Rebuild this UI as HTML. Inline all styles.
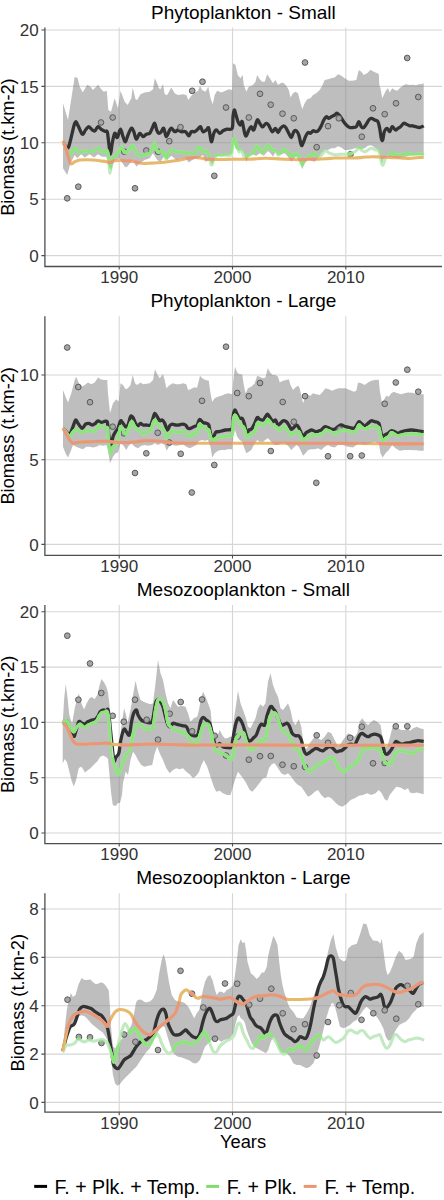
<!DOCTYPE html><html><head><meta charset="utf-8"><style>html,body{margin:0;padding:0;background:#fff;width:444px;height:1200px;overflow:hidden}svg{display:block}text{font-family:"Liberation Sans",sans-serif}</style></head><body>
<svg width="444" height="1200" viewBox="0 0 444 1200">
<path d="M44.9 255.6H442M44.9 199.2H442M44.9 142.8H442M44.9 86.4H442M44.9 30H442M119.2 27.6V266.5M232.5 27.6V266.5M345.8 27.6V266.5" stroke="#d6d6d6" stroke-width="1.1" fill="none"/>
<clipPath id="c0"><path d="M63 103.3 68 120 74.7 76.7 77.7 78.3 79.7 86.7 82.7 92.5 87.2 84.7 90.5 86.7 93 90 98 84.7 101.3 89.2 103.8 91.7 106.8 90.8 108.3 110 111 111.7 114.7 98.3 118 108.3 120.5 90.8 124.7 101.7 127.7 105 131.3 98.3 132.7 87.5 135.5 99.2 137.2 100 140.5 94.2 144.7 92.5 149.7 91.7 153 89.2 154.7 78.3 157.2 83.3 158.8 88.3 160.5 89.2 163 84.2 164.7 94.2 167.2 95 171.3 87.5 174.7 93.3 178 95 183 94.2 186.3 95 188.3 100 191.3 95.8 194.7 92.5 198 91 200 85.8 202.2 90 205.5 91.7 208.3 86.7 210.5 98.3 212.7 104.2 214.7 95 217.2 90.8 221.3 92.5 225.5 90.8 228.8 89.2 232.2 90 233 63.3 235.5 65 237.7 75 240.5 78.3 242.7 75 243.8 85 246.3 91.7 248.8 86.7 253 85 255.5 81.7 257.2 75 259.7 79.2 262.2 81.7 264.7 81.7 267.2 74.2 270.5 79.2 273 83.3 275.5 80 278 85 280.5 83.3 283 82.5 286.3 85.8 288.8 90 290.5 97.5 293 93.3 295.5 91.7 298 93.3 299.7 100 302.2 109.2 304.7 103.3 307.2 99.2 310.5 98.3 313 95 316.3 93.3 319.7 90 322.2 85.8 324.7 80 328 79.2 331.3 78.3 334.7 77.5 338 74.2 341.3 75.8 344.7 78.3 348.8 80.8 352.2 80.8 356.3 80 358.8 70 361.3 71.7 363.8 75 367.2 73.3 370.5 69.7 373.8 71.7 377.2 73.3 378.8 74.2 379.3 85 380.5 88.3 382.2 98.3 383.8 95 386.3 90 388 88.3 389.7 92.5 392.2 88.3 394.7 90 397.2 90.8 400.5 87.5 403.8 85 406.3 84.2 409.7 85 412.5 84.7 415.8 85.3 419.2 84.2 421.7 84.2 423.7 83 423.7 155.8 420 155 411.7 155.3 404.7 156.7 398 158.3 393 157.5 388 156.7 383.8 158.3 381.7 163.3 379.7 153.3 378 150 374.7 147.5 371.3 145.3 368 145.8 364.7 148.3 361.3 149.2 358 148.3 354.7 148.3 352.2 149.2 348 150 344.7 150 341.3 147.5 338 146.3 334.7 148.3 331.3 148.3 328 150 324.7 150 321.3 153.3 318 158.3 314.7 161.7 311.3 160.8 308 160 304.7 163.3 302.2 169.2 299.7 161.7 296.3 156.7 293.8 158.3 291.3 161.7 288 156.7 284.7 153.3 281.3 154.2 278 155 275.5 151.7 273 156.7 270.5 153.3 268 151 263.8 155.8 259.7 153.3 256.3 155.8 252.2 154.2 248.8 156.7 246.3 161.7 243.8 153.3 241.3 150 238.8 150.8 235.5 148.3 233.8 143.3 232.5 153.3 229.7 155 224.7 155.8 219.7 155.8 215.5 156.7 212.2 165 209.7 160 205.5 161.7 203 155 198 158.3 196.3 158.3 192.2 160 188.8 162.5 185.5 158.3 181.3 158.3 176.3 160 171.3 155.8 167.2 160 163.8 156.7 160.5 161.7 157.2 160 153 153.3 149.7 158.3 144.7 160 139.7 163.3 136.3 166.7 133 160 131 162 127 167 124.7 166.7 119.7 158.3 114.7 160 111.3 170 108.8 166.7 106.3 156.7 102.2 156.7 98 154.2 93.8 157.5 89.7 154.2 84.7 157.5 81.3 154.2 77.2 158.3 74.7 155 70.5 163.3 67.2 175 63 168.3 Z"/><circle cx="101" cy="122.5" r="3.3"/><circle cx="112.7" cy="117.5" r="3.3"/><circle cx="78.3" cy="186.7" r="3.3"/><circle cx="67.2" cy="198.3" r="3.3"/><circle cx="124.3" cy="151.7" r="3.3"/><circle cx="202.5" cy="81.7" r="3.3"/><circle cx="192.2" cy="90.8" r="3.3"/><circle cx="180.5" cy="127.2" r="3.3"/><circle cx="169.3" cy="141.2" r="3.3"/><circle cx="146.3" cy="150.5" r="3.3"/><circle cx="158" cy="151.7" r="3.3"/><circle cx="135" cy="188.3" r="3.3"/><circle cx="226" cy="107.5" r="3.3"/><circle cx="248.8" cy="117.5" r="3.3"/><circle cx="260" cy="93.8" r="3.3"/><circle cx="270.7" cy="104.7" r="3.3"/><circle cx="214.3" cy="175.8" r="3.3"/><circle cx="305" cy="62.5" r="3.3"/><circle cx="282.5" cy="113.7" r="3.3"/><circle cx="293.8" cy="118.3" r="3.3"/><circle cx="328" cy="126.2" r="3.3"/><circle cx="338.8" cy="118.3" r="3.3"/><circle cx="316.7" cy="147.2" r="3.3"/><circle cx="407.2" cy="58" r="3.3"/><circle cx="373" cy="108.3" r="3.3"/><circle cx="384.7" cy="114.2" r="3.3"/><circle cx="396" cy="103.3" r="3.3"/><circle cx="361.8" cy="136.7" r="3.3"/><circle cx="350.5" cy="154.2" r="3.3"/><circle cx="418.3" cy="97" r="3.3"/></clipPath>
<path d="M63 103.3 68 120 74.7 76.7 77.7 78.3 79.7 86.7 82.7 92.5 87.2 84.7 90.5 86.7 93 90 98 84.7 101.3 89.2 103.8 91.7 106.8 90.8 108.3 110 111 111.7 114.7 98.3 118 108.3 120.5 90.8 124.7 101.7 127.7 105 131.3 98.3 132.7 87.5 135.5 99.2 137.2 100 140.5 94.2 144.7 92.5 149.7 91.7 153 89.2 154.7 78.3 157.2 83.3 158.8 88.3 160.5 89.2 163 84.2 164.7 94.2 167.2 95 171.3 87.5 174.7 93.3 178 95 183 94.2 186.3 95 188.3 100 191.3 95.8 194.7 92.5 198 91 200 85.8 202.2 90 205.5 91.7 208.3 86.7 210.5 98.3 212.7 104.2 214.7 95 217.2 90.8 221.3 92.5 225.5 90.8 228.8 89.2 232.2 90 233 63.3 235.5 65 237.7 75 240.5 78.3 242.7 75 243.8 85 246.3 91.7 248.8 86.7 253 85 255.5 81.7 257.2 75 259.7 79.2 262.2 81.7 264.7 81.7 267.2 74.2 270.5 79.2 273 83.3 275.5 80 278 85 280.5 83.3 283 82.5 286.3 85.8 288.8 90 290.5 97.5 293 93.3 295.5 91.7 298 93.3 299.7 100 302.2 109.2 304.7 103.3 307.2 99.2 310.5 98.3 313 95 316.3 93.3 319.7 90 322.2 85.8 324.7 80 328 79.2 331.3 78.3 334.7 77.5 338 74.2 341.3 75.8 344.7 78.3 348.8 80.8 352.2 80.8 356.3 80 358.8 70 361.3 71.7 363.8 75 367.2 73.3 370.5 69.7 373.8 71.7 377.2 73.3 378.8 74.2 379.3 85 380.5 88.3 382.2 98.3 383.8 95 386.3 90 388 88.3 389.7 92.5 392.2 88.3 394.7 90 397.2 90.8 400.5 87.5 403.8 85 406.3 84.2 409.7 85 412.5 84.7 415.8 85.3 419.2 84.2 421.7 84.2 423.7 83 423.7 155.8 420 155 411.7 155.3 404.7 156.7 398 158.3 393 157.5 388 156.7 383.8 158.3 381.7 163.3 379.7 153.3 378 150 374.7 147.5 371.3 145.3 368 145.8 364.7 148.3 361.3 149.2 358 148.3 354.7 148.3 352.2 149.2 348 150 344.7 150 341.3 147.5 338 146.3 334.7 148.3 331.3 148.3 328 150 324.7 150 321.3 153.3 318 158.3 314.7 161.7 311.3 160.8 308 160 304.7 163.3 302.2 169.2 299.7 161.7 296.3 156.7 293.8 158.3 291.3 161.7 288 156.7 284.7 153.3 281.3 154.2 278 155 275.5 151.7 273 156.7 270.5 153.3 268 151 263.8 155.8 259.7 153.3 256.3 155.8 252.2 154.2 248.8 156.7 246.3 161.7 243.8 153.3 241.3 150 238.8 150.8 235.5 148.3 233.8 143.3 232.5 153.3 229.7 155 224.7 155.8 219.7 155.8 215.5 156.7 212.2 165 209.7 160 205.5 161.7 203 155 198 158.3 196.3 158.3 192.2 160 188.8 162.5 185.5 158.3 181.3 158.3 176.3 160 171.3 155.8 167.2 160 163.8 156.7 160.5 161.7 157.2 160 153 153.3 149.7 158.3 144.7 160 139.7 163.3 136.3 166.7 133 160 131 162 127 167 124.7 166.7 119.7 158.3 114.7 160 111.3 170 108.8 166.7 106.3 156.7 102.2 156.7 98 154.2 93.8 157.5 89.7 154.2 84.7 157.5 81.3 154.2 77.2 158.3 74.7 155 70.5 163.3 67.2 175 63 168.3 Z" fill="#7e7e7e" fill-opacity="0.5"/>
<path d="M63 141.7C63.9 142.7 66.3 150.6 68.3 147.5C70.2 144.4 73.1 127 74.7 123.3C76.3 119.5 76.5 123.2 77.7 125C79 126.8 80.9 133.4 82.2 134.2C83.5 135 84.4 131.2 85.5 130C86.6 128.8 87.7 126.7 88.8 126.7C89.9 126.7 91.2 129.3 92.2 130C93.2 130.7 94 131.4 95 130.8C96 130.2 96.9 126.9 98 126.7C99.1 126.5 100.5 128.9 101.7 129.7C102.9 130.5 104.1 130.9 105 131.3C105.9 131.7 106.7 130 107.3 132C107.9 134 108.3 139.6 108.8 143.3C109.3 147 109.9 154.2 110.5 154.2C111.1 154.2 111.5 146.8 112.2 143.3C112.9 139.8 113.9 134.3 114.7 133.3C115.5 132.3 116.2 138.2 117.2 137.5C118.2 136.8 119.5 129.3 120.5 129.2C121.5 129.1 122.2 134.6 123 136.7C123.8 138.8 124.7 142 125.5 141.7C126.3 141.4 127 137.2 128 135C129 132.8 130.3 128.9 131.3 128.3C132.3 127.8 133 129.9 133.8 131.7C134.6 133.5 135.3 138.9 136.3 139.2C137.3 139.5 138.6 133.7 139.7 133.3C140.8 132.9 141.9 136.5 143 136.7C144.1 136.8 145.2 134.8 146.3 134.2C147.4 133.6 148.7 134.3 149.7 133.3C150.7 132.3 151.4 130 152.2 128.3C153 126.6 153.9 123 154.7 123.3C155.4 123.6 156 128.3 156.7 130C157.4 131.7 158 133 158.8 133.3C159.6 133.6 160.5 132.5 161.3 131.7C162.1 130.9 163 127.5 163.8 128.3C164.6 129.1 165.3 136.4 166.3 136.7C167.3 137 168.8 131.4 169.7 130C170.6 128.6 170.9 128 171.7 128.3C172.5 128.6 173.6 131.4 174.7 131.7C175.8 132 176.9 130 178 130C179.1 130 180.1 131.4 181.3 131.7C182.6 132 184.2 131 185.5 131.7C186.8 132.4 187.8 135.8 188.8 135.8C189.8 135.8 190.3 132.4 191.3 131.7C192.3 131 193.6 132.1 194.7 131.7C195.8 131.2 197 129.8 198 129C199 128.2 199.7 126.2 200.5 126.7C201.3 127.2 202 131.1 203 131.7C204 132.2 205.3 130.6 206.3 130C207.3 129.4 208 126.4 208.8 128.3C209.6 130.2 210.5 140.9 211.3 141.7C212.1 142.5 213 135.2 213.8 133.3C214.6 131.4 215.3 130 216.3 130C217.3 130 218.6 133.2 219.7 133.3C220.8 133.4 221.8 131.5 223 130.8C224.2 130.1 225.7 129.6 227.2 129.2C228.7 128.8 231.2 130.4 232.2 128.3C233.2 126.2 232.7 119.8 233 116.7C233.3 113.7 233.8 110.3 234.3 110C234.8 109.7 235.4 113 236 115C236.6 117 237.2 120 238 121.7C238.8 123.4 239.8 125 240.5 125C241.2 125 241.5 120.3 242.2 121.7C242.9 123.1 244 131 244.7 133.3C245.4 135.7 245.6 136.4 246.3 135.8C247 135.2 248 131.5 248.8 130C249.6 128.5 250.5 126.7 251.3 126.7C252.1 126.7 252.8 131.1 253.8 130C254.8 128.9 256.2 121.1 257.2 120C258.2 118.9 258.9 122.2 259.7 123.3C260.5 124.4 261.5 126.3 262.2 126.7C262.9 127.1 263.1 126.4 263.8 125.8C264.5 125.2 265.5 123.4 266.3 123.3C267.1 123.2 267.5 123.6 268.5 125C269.5 126.4 271 131.1 272.2 131.7C273.4 132.2 274.5 128.2 275.5 128.3C276.5 128.4 277.2 132.5 278 132.5C278.8 132.5 279.5 129.4 280.5 128.3C281.5 127.2 282.8 125.8 283.8 125.8C284.8 125.8 285.5 127.1 286.3 128.3C287.1 129.6 288 131.8 288.8 133.3C289.6 134.8 290.5 137.8 291.3 137.5C292.1 137.2 293 132.8 293.8 131.7C294.6 130.6 295.5 130.2 296.3 130.8C297.1 131.4 298 132.6 298.8 135C299.6 137.4 300.6 143.6 301.3 145C302 146.4 302.3 144.7 303 143.3C303.7 141.9 304.7 138.5 305.5 136.7C306.3 134.9 307.2 133.1 308 132.5C308.8 131.9 309.7 133.6 310.5 133.3C311.3 133 312 131.1 313 130.8C314 130.5 315.3 131.8 316.3 131.7C317.3 131.6 318 131 318.8 130C319.6 129 320.5 127.5 321.3 125.8C322.1 124.1 323 121.5 323.8 120C324.6 118.5 325.5 117 326.3 116.7C327.1 116.4 328 118.3 328.8 118.3C329.6 118.3 330.3 117.2 331.3 116.7C332.3 116.2 333.7 115.6 334.7 115C335.7 114.4 336.2 113 337.2 113.3C338.2 113.6 339.5 115.5 340.5 116.7C341.5 118 342 119.4 343 120.8C344 122.2 345.2 123.9 346.3 125C347.4 126.1 348.6 127.1 349.7 127.5C350.8 127.9 351.9 127.6 353 127.5C354.1 127.4 355.3 127.7 356.3 126.7C357.3 125.7 358 121.7 358.8 121.7C359.6 121.7 360.5 125.7 361.3 126.7C362.1 127.7 363 127.9 363.8 127.5C364.6 127.1 365.5 125.5 366.3 124.2C367.1 123 368 121 368.8 120C369.6 119 370.3 118.3 371.3 118.3C372.3 118.3 373.6 119.4 374.7 120C375.8 120.6 377.2 120.3 378 121.7C378.8 123.1 379.1 125.5 379.7 128.3C380.2 131.1 380.8 136.4 381.3 138.3C381.8 140.2 382.2 141.1 382.7 140C383.2 138.9 383.6 133.6 384.3 131.7C385.1 129.8 386.3 128.3 387.2 128.3C388.1 128.3 388.9 132 389.7 131.7C390.5 131.4 391.2 127 392.2 126.7C393.2 126.4 394.5 129.7 395.5 130C396.5 130.3 397.2 128.9 398 128.3C398.8 127.8 399.5 127.5 400.5 126.7C401.5 125.9 402.8 123.7 403.8 123.3C404.8 122.9 405.3 123.8 406.3 124.2C407.3 124.6 408.7 125.5 409.7 125.8C410.7 126.1 411.5 125.6 412.5 125.8C413.5 126 414.7 126.4 415.8 126.7C416.9 127 418.2 127.5 419.2 127.5C420.2 127.5 420.9 127 421.7 126.7C422.4 126.4 423.4 126 423.7 125.8" fill="none" stroke="#333333" stroke-width="3.3" stroke-linejoin="round"/>
<g fill="#a5a5a5" stroke="#5a5a5a" stroke-width="1">
<circle cx="101" cy="122.5" r="2.85"/>
<circle cx="112.7" cy="117.5" r="2.85"/>
<circle cx="78.3" cy="186.7" r="2.85"/>
<circle cx="67.2" cy="198.3" r="2.85"/>
<circle cx="124.3" cy="151.7" r="2.85"/>
<circle cx="202.5" cy="81.7" r="2.85"/>
<circle cx="192.2" cy="90.8" r="2.85"/>
<circle cx="180.5" cy="127.2" r="2.85"/>
<circle cx="169.3" cy="141.2" r="2.85"/>
<circle cx="146.3" cy="150.5" r="2.85"/>
<circle cx="158" cy="151.7" r="2.85"/>
<circle cx="135" cy="188.3" r="2.85"/>
<circle cx="226" cy="107.5" r="2.85"/>
<circle cx="248.8" cy="117.5" r="2.85"/>
<circle cx="260" cy="93.8" r="2.85"/>
<circle cx="270.7" cy="104.7" r="2.85"/>
<circle cx="214.3" cy="175.8" r="2.85"/>
<circle cx="305" cy="62.5" r="2.85"/>
<circle cx="282.5" cy="113.7" r="2.85"/>
<circle cx="293.8" cy="118.3" r="2.85"/>
<circle cx="328" cy="126.2" r="2.85"/>
<circle cx="338.8" cy="118.3" r="2.85"/>
<circle cx="316.7" cy="147.2" r="2.85"/>
<circle cx="407.2" cy="58" r="2.85"/>
<circle cx="373" cy="108.3" r="2.85"/>
<circle cx="384.7" cy="114.2" r="2.85"/>
<circle cx="396" cy="103.3" r="2.85"/>
<circle cx="361.8" cy="136.7" r="2.85"/>
<circle cx="350.5" cy="154.2" r="2.85"/>
<circle cx="418.3" cy="97" r="2.85"/>
</g>
<g fill="none" stroke-width="3.1" stroke-linejoin="round">
<path d="M63 141.7C63.5 143.1 65.2 147.8 66.3 150C67.4 152.2 68.3 155.3 69.7 155C71.1 154.7 73 148.7 74.7 148.3C76.4 147.9 78 152.1 79.7 152.5C81.4 152.9 83 150.9 84.7 150.8C86.4 150.7 88.2 151.7 89.7 151.7C91.2 151.7 92.4 151.4 93.8 150.8C95.2 150.2 96.6 148.2 98 148.3C99.4 148.5 100.7 151.3 102.2 151.7C103.7 152.1 106.1 149.4 107.2 150.8C108.3 152.2 108.3 156.2 108.8 160C109.3 163.8 109.4 173.3 110 173.3C110.6 173.3 111.3 162.9 112.2 160C113.1 157.1 114.4 157.2 115.5 155.8C116.6 154.4 117.8 153.2 118.8 151.7C119.8 150.2 120.3 146.6 121.3 146.7C122.3 146.8 123.6 151.8 124.7 152.5C125.8 153.2 127 151.5 128 150.8C129 150.1 129.7 149.1 130.5 148.3C131.3 147.5 132 145 133 145.8C134 146.6 134.9 151.6 136.3 153.3C137.7 155 139.9 155.7 141.3 155.8C142.7 156 143.3 154.6 144.7 154.2C146.1 153.8 148.3 154.6 149.7 153.3C151.1 152.1 152.2 148.4 153 146.7C153.8 145 154.1 142.8 154.7 143.3C155.3 143.9 156 148.5 156.7 150C157.4 151.5 158 152.4 158.8 152.5C159.6 152.6 160.5 150.7 161.3 150.8C162.1 150.9 163 151.9 163.8 153.3C164.6 154.7 165.3 159.2 166 159.2C166.7 159.2 167.1 154.8 168 153.3C168.9 151.8 169.9 150.3 171.3 150C172.7 149.7 174.6 151.4 176.3 151.7C178 152 179.6 151.6 181.3 151.7C183 151.8 184.8 152.2 186.3 152.5C187.8 152.8 189.1 153.2 190.5 153.3C191.9 153.4 193.4 154.2 194.7 153.3C195.9 152.4 197 148.8 198 148C199 147.2 199.7 147.7 200.5 148.3C201.3 148.9 202 151.3 203 151.7C204 152.1 205.3 150.2 206.3 150.8C207.3 151.4 208 152.6 208.8 155C209.6 157.4 210.5 164.2 211.3 165C212.1 165.8 212.8 161.7 213.8 160C214.8 158.3 215.9 155.7 217.2 155C218.4 154.3 219.9 155.8 221.3 155.8C222.7 155.8 223.8 155.1 225.5 155C227.2 154.9 230.1 156.9 231.3 155C232.6 153.1 232.5 146.1 233 143.3C233.5 140.5 233.8 138 234.3 138.3C234.9 138.6 235.6 142.8 236.3 145C237.1 147.2 238 150.9 238.8 151.7C239.6 152.5 240.3 149.7 241 150C241.7 150.3 242.1 151.9 242.7 153.3C243.3 154.7 243.9 157.9 244.7 158.3C245.4 158.7 246.4 156.4 247.2 155.8C248 155.2 248.7 155.4 249.7 155C250.7 154.6 252 154.4 253 153.3C254 152.2 254.8 149.6 255.5 148.3C256.2 147.1 256.5 145.5 257.2 145.8C257.9 146.1 258.9 148.9 259.7 150C260.5 151.1 261.4 152.6 262.2 152.5C263 152.4 263.8 150.4 264.7 149.2C265.6 147.9 266.7 145.2 267.7 145C268.7 144.8 269.6 147.5 270.5 148.3C271.4 149.1 272.2 149.7 273 150C273.8 150.3 274.7 149.2 275.5 150C276.3 150.8 277.2 154.4 278 155C278.8 155.6 279.7 154.1 280.5 153.3C281.3 152.5 282.2 150.6 283 150C283.8 149.4 284.7 149.6 285.5 150C286.3 150.4 287.2 151.8 288 152.5C288.8 153.2 289.7 153.5 290.5 154.2C291.3 154.9 292.2 156.7 293 156.7C293.8 156.7 294.7 154.6 295.5 154.2C296.3 153.8 297.3 153.2 298 154.2C298.7 155.2 299 158.2 299.7 160C300.4 161.8 301.4 165 302.2 165C303 165 303.7 161.4 304.7 160C305.7 158.6 306.9 157.5 308 156.7C309.1 155.9 310.3 155.6 311.3 155C312.3 154.4 313 153.3 313.8 153.3C314.6 153.3 315.3 154.4 316.3 155C317.3 155.6 318.7 156.8 319.7 156.7C320.7 156.6 321.4 155.2 322.2 154.2C323 153.2 323.9 151.2 324.7 150.8C325.5 150.4 326.4 151.3 327.2 151.7C328 152.1 328.7 152.9 329.7 153.3C330.7 153.7 331.9 153.9 333 154.2C334.1 154.5 335.2 155 336.3 155C337.4 155 338.6 154.3 339.7 154.2C340.8 154.1 341.6 154.2 343 154.2C344.4 154.2 346.6 154.3 348 154.2C349.4 154 350.2 153.7 351.3 153.3C352.4 152.9 353.7 152.2 354.7 151.7C355.7 151.1 356.5 150.7 357.2 150C357.9 149.3 358.1 147.5 358.8 147.5C359.5 147.5 360.3 149.3 361.3 150C362.3 150.7 363.6 151.7 364.7 151.7C365.8 151.7 366.9 150.6 368 150C369.1 149.4 370.1 148.3 371.3 148.3C372.6 148.3 374.2 149.6 375.5 150C376.8 150.4 378 149.4 378.8 150.8C379.6 152.2 379.9 155.9 380.5 158.3C381.1 160.7 381.6 164.2 382.2 165C382.8 165.8 383.2 164.4 383.8 163.3C384.4 162.2 384.8 159.4 385.5 158.3C386.2 157.2 387 157.7 388 156.7C389 155.7 390.3 152.9 391.3 152.5C392.3 152.1 392.8 153.8 393.8 154.2C394.8 154.6 396.1 154.9 397.2 155C398.3 155.1 399.4 155.1 400.5 155C401.6 154.9 402.7 154.5 403.8 154.2C404.9 153.9 405.8 153.2 407.2 153.3C408.6 153.4 409.9 154.3 412 154.5C414.1 154.7 418.1 154.3 420 154.2C421.9 154.1 423.1 153.8 423.7 153.7" stroke="#c3e9c3"/>
<path d="M63 141.7C63.5 143.1 65.2 147.8 66.3 150C67.4 152.2 68.3 155.3 69.7 155C71.1 154.7 73 148.7 74.7 148.3C76.4 147.9 78 152.1 79.7 152.5C81.4 152.9 83 150.9 84.7 150.8C86.4 150.7 88.2 151.7 89.7 151.7C91.2 151.7 92.4 151.4 93.8 150.8C95.2 150.2 96.6 148.2 98 148.3C99.4 148.5 100.7 151.3 102.2 151.7C103.7 152.1 106.1 149.4 107.2 150.8C108.3 152.2 108.3 156.2 108.8 160C109.3 163.8 109.4 173.3 110 173.3C110.6 173.3 111.3 162.9 112.2 160C113.1 157.1 114.4 157.2 115.5 155.8C116.6 154.4 117.8 153.2 118.8 151.7C119.8 150.2 120.3 146.6 121.3 146.7C122.3 146.8 123.6 151.8 124.7 152.5C125.8 153.2 127 151.5 128 150.8C129 150.1 129.7 149.1 130.5 148.3C131.3 147.5 132 145 133 145.8C134 146.6 134.9 151.6 136.3 153.3C137.7 155 139.9 155.7 141.3 155.8C142.7 156 143.3 154.6 144.7 154.2C146.1 153.8 148.3 154.6 149.7 153.3C151.1 152.1 152.2 148.4 153 146.7C153.8 145 154.1 142.8 154.7 143.3C155.3 143.9 156 148.5 156.7 150C157.4 151.5 158 152.4 158.8 152.5C159.6 152.6 160.5 150.7 161.3 150.8C162.1 150.9 163 151.9 163.8 153.3C164.6 154.7 165.3 159.2 166 159.2C166.7 159.2 167.1 154.8 168 153.3C168.9 151.8 169.9 150.3 171.3 150C172.7 149.7 174.6 151.4 176.3 151.7C178 152 179.6 151.6 181.3 151.7C183 151.8 184.8 152.2 186.3 152.5C187.8 152.8 189.1 153.2 190.5 153.3C191.9 153.4 193.4 154.2 194.7 153.3C195.9 152.4 197 148.8 198 148C199 147.2 199.7 147.7 200.5 148.3C201.3 148.9 202 151.3 203 151.7C204 152.1 205.3 150.2 206.3 150.8C207.3 151.4 208 152.6 208.8 155C209.6 157.4 210.5 164.2 211.3 165C212.1 165.8 212.8 161.7 213.8 160C214.8 158.3 215.9 155.7 217.2 155C218.4 154.3 219.9 155.8 221.3 155.8C222.7 155.8 223.8 155.1 225.5 155C227.2 154.9 230.1 156.9 231.3 155C232.6 153.1 232.5 146.1 233 143.3C233.5 140.5 233.8 138 234.3 138.3C234.9 138.6 235.6 142.8 236.3 145C237.1 147.2 238 150.9 238.8 151.7C239.6 152.5 240.3 149.7 241 150C241.7 150.3 242.1 151.9 242.7 153.3C243.3 154.7 243.9 157.9 244.7 158.3C245.4 158.7 246.4 156.4 247.2 155.8C248 155.2 248.7 155.4 249.7 155C250.7 154.6 252 154.4 253 153.3C254 152.2 254.8 149.6 255.5 148.3C256.2 147.1 256.5 145.5 257.2 145.8C257.9 146.1 258.9 148.9 259.7 150C260.5 151.1 261.4 152.6 262.2 152.5C263 152.4 263.8 150.4 264.7 149.2C265.6 147.9 266.7 145.2 267.7 145C268.7 144.8 269.6 147.5 270.5 148.3C271.4 149.1 272.2 149.7 273 150C273.8 150.3 274.7 149.2 275.5 150C276.3 150.8 277.2 154.4 278 155C278.8 155.6 279.7 154.1 280.5 153.3C281.3 152.5 282.2 150.6 283 150C283.8 149.4 284.7 149.6 285.5 150C286.3 150.4 287.2 151.8 288 152.5C288.8 153.2 289.7 153.5 290.5 154.2C291.3 154.9 292.2 156.7 293 156.7C293.8 156.7 294.7 154.6 295.5 154.2C296.3 153.8 297.3 153.2 298 154.2C298.7 155.2 299 158.2 299.7 160C300.4 161.8 301.4 165 302.2 165C303 165 303.7 161.4 304.7 160C305.7 158.6 306.9 157.5 308 156.7C309.1 155.9 310.3 155.6 311.3 155C312.3 154.4 313 153.3 313.8 153.3C314.6 153.3 315.3 154.4 316.3 155C317.3 155.6 318.7 156.8 319.7 156.7C320.7 156.6 321.4 155.2 322.2 154.2C323 153.2 323.9 151.2 324.7 150.8C325.5 150.4 326.4 151.3 327.2 151.7C328 152.1 328.7 152.9 329.7 153.3C330.7 153.7 331.9 153.9 333 154.2C334.1 154.5 335.2 155 336.3 155C337.4 155 338.6 154.3 339.7 154.2C340.8 154.1 341.6 154.2 343 154.2C344.4 154.2 346.6 154.3 348 154.2C349.4 154 350.2 153.7 351.3 153.3C352.4 152.9 353.7 152.2 354.7 151.7C355.7 151.1 356.5 150.7 357.2 150C357.9 149.3 358.1 147.5 358.8 147.5C359.5 147.5 360.3 149.3 361.3 150C362.3 150.7 363.6 151.7 364.7 151.7C365.8 151.7 366.9 150.6 368 150C369.1 149.4 370.1 148.3 371.3 148.3C372.6 148.3 374.2 149.6 375.5 150C376.8 150.4 378 149.4 378.8 150.8C379.6 152.2 379.9 155.9 380.5 158.3C381.1 160.7 381.6 164.2 382.2 165C382.8 165.8 383.2 164.4 383.8 163.3C384.4 162.2 384.8 159.4 385.5 158.3C386.2 157.2 387 157.7 388 156.7C389 155.7 390.3 152.9 391.3 152.5C392.3 152.1 392.8 153.8 393.8 154.2C394.8 154.6 396.1 154.9 397.2 155C398.3 155.1 399.4 155.1 400.5 155C401.6 154.9 402.7 154.5 403.8 154.2C404.9 153.9 405.8 153.2 407.2 153.3C408.6 153.4 409.9 154.3 412 154.5C414.1 154.7 418.1 154.3 420 154.2C421.9 154.1 423.1 153.8 423.7 153.7" stroke="#8ae678" clip-path="url(#c0)"/>
<path d="M63 140.8C63.5 142.3 65 146.2 66.3 150C67.5 153.8 69.1 161.4 70.5 163.3C71.9 165.2 73.2 162.2 74.7 161.7C76.2 161.1 77.8 160.3 79.7 160C81.6 159.7 84.1 159.7 86.3 159.7C88.5 159.7 90.8 159.8 93 160C95.2 160.2 97.5 160.5 99.7 160.8C101.9 161.1 104.6 161.4 106.3 161.7C108 162 108.6 162.7 110 162.5C111.4 162.3 113.1 161.1 114.7 160.8C116.3 160.5 118 160.5 119.7 160.5C121.4 160.5 123.3 160.8 124.7 160.8C126.1 160.9 126.3 160.7 128 160.8C129.7 161 132.5 161.3 134.7 161.7C136.9 162.1 139.1 163 141.3 163.3C143.5 163.6 145.8 163.4 148 163.3C150.2 163.2 152.5 163.1 154.7 163C156.9 162.9 159.1 162.7 161.3 162.5C163.5 162.3 165.8 162 168 161.7C170.2 161.4 172.5 161.1 174.7 160.8C176.9 160.5 179.1 160.1 181.3 159.7C183.5 159.3 185.8 158.7 188 158.3C190.2 157.9 192.4 157.5 194.7 157.5C197 157.5 200.1 158 202 158.3C203.9 158.6 204.2 159 206.3 159.2C208.4 159.4 211.9 159.4 214.7 159.5C217.5 159.6 220.2 159.6 223 159.5C225.8 159.4 228.5 159.2 231.3 159.2C234.1 159.1 236.9 159.2 239.7 159.2C242.5 159.2 245.2 159.4 248 159.3C250.8 159.2 253.5 159 256.3 158.8C259.1 158.6 262.1 158.4 264.7 158.3C267.3 158.2 268.7 158.3 272 158.5C275.3 158.7 281.2 159 284.7 159.2C288.2 159.4 290.2 159.4 293 159.5C295.8 159.6 298.5 159.7 301.3 159.7C304.1 159.7 306.9 159.4 309.7 159.3C312.5 159.2 315.2 159.3 318 159.2C320.8 159.1 323.5 158.9 326.3 158.7C329.1 158.5 332.1 158.1 334.7 158C337.3 157.9 338.7 158 342 158C345.3 158 351.2 158.1 354.7 158C358.2 157.9 360.2 157.5 363 157.3C365.8 157.1 368.5 156.8 371.3 156.7C374.1 156.6 376.9 156.9 379.7 157C382.5 157.1 385.2 157.4 388 157.5C390.8 157.6 393.5 157.7 396.3 157.8C399.1 157.9 402.1 158.2 404.7 158.3C407.3 158.4 409.4 158.4 412 158.3C414.6 158.2 418.1 157.6 420 157.5C421.9 157.4 423.1 157.5 423.7 157.5" stroke="#e6b96c"/>
<path d="M63 140.8C63.5 142.3 65 146.2 66.3 150C67.5 153.8 69.1 161.4 70.5 163.3C71.9 165.2 73.2 162.2 74.7 161.7C76.2 161.1 77.8 160.3 79.7 160C81.6 159.7 84.1 159.7 86.3 159.7C88.5 159.7 90.8 159.8 93 160C95.2 160.2 97.5 160.5 99.7 160.8C101.9 161.1 104.6 161.4 106.3 161.7C108 162 108.6 162.7 110 162.5C111.4 162.3 113.1 161.1 114.7 160.8C116.3 160.5 118 160.5 119.7 160.5C121.4 160.5 123.3 160.8 124.7 160.8C126.1 160.9 126.3 160.7 128 160.8C129.7 161 132.5 161.3 134.7 161.7C136.9 162.1 139.1 163 141.3 163.3C143.5 163.6 145.8 163.4 148 163.3C150.2 163.2 152.5 163.1 154.7 163C156.9 162.9 159.1 162.7 161.3 162.5C163.5 162.3 165.8 162 168 161.7C170.2 161.4 172.5 161.1 174.7 160.8C176.9 160.5 179.1 160.1 181.3 159.7C183.5 159.3 185.8 158.7 188 158.3C190.2 157.9 192.4 157.5 194.7 157.5C197 157.5 200.1 158 202 158.3C203.9 158.6 204.2 159 206.3 159.2C208.4 159.4 211.9 159.4 214.7 159.5C217.5 159.6 220.2 159.6 223 159.5C225.8 159.4 228.5 159.2 231.3 159.2C234.1 159.1 236.9 159.2 239.7 159.2C242.5 159.2 245.2 159.4 248 159.3C250.8 159.2 253.5 159 256.3 158.8C259.1 158.6 262.1 158.4 264.7 158.3C267.3 158.2 268.7 158.3 272 158.5C275.3 158.7 281.2 159 284.7 159.2C288.2 159.4 290.2 159.4 293 159.5C295.8 159.6 298.5 159.7 301.3 159.7C304.1 159.7 306.9 159.4 309.7 159.3C312.5 159.2 315.2 159.3 318 159.2C320.8 159.1 323.5 158.9 326.3 158.7C329.1 158.5 332.1 158.1 334.7 158C337.3 157.9 338.7 158 342 158C345.3 158 351.2 158.1 354.7 158C358.2 157.9 360.2 157.5 363 157.3C365.8 157.1 368.5 156.8 371.3 156.7C374.1 156.6 376.9 156.9 379.7 157C382.5 157.1 385.2 157.4 388 157.5C390.8 157.6 393.5 157.7 396.3 157.8C399.1 157.9 402.1 158.2 404.7 158.3C407.3 158.4 409.4 158.4 412 158.3C414.6 158.2 418.1 157.6 420 157.5C421.9 157.4 423.1 157.5 423.7 157.5" stroke="#e9967a" clip-path="url(#c0)"/>
</g>
<path d="M44.9 27.6V266.5H442" stroke="#4d4d4d" stroke-width="1.3" fill="none"/>
<path d="M41.4 255.6H44.9M41.4 199.2H44.9M41.4 142.8H44.9M41.4 86.4H44.9M41.4 30H44.9M119.2 266.5V269.5M232.5 266.5V269.5M345.8 266.5V269.5" stroke="#4d4d4d" stroke-width="1.1" fill="none"/>
<text x="38.6" y="261.7" font-size="17" fill="#333333" text-anchor="end">0</text>
<text x="38.6" y="205.3" font-size="17" fill="#333333" text-anchor="end">5</text>
<text x="38.6" y="148.9" font-size="17" fill="#333333" text-anchor="end">10</text>
<text x="38.6" y="92.5" font-size="17" fill="#333333" text-anchor="end">15</text>
<text x="38.6" y="36.1" font-size="17" fill="#333333" text-anchor="end">20</text>
<text x="119.2" y="283.1" font-size="17" fill="#333333" text-anchor="middle">1990</text>
<text x="232.5" y="283.1" font-size="17" fill="#333333" text-anchor="middle">2000</text>
<text x="345.8" y="283.1" font-size="17" fill="#333333" text-anchor="middle">2010</text>
<text x="243.4" y="18.7" font-size="19" fill="#000" text-anchor="middle">Phytoplankton - Small</text>
<text transform="translate(14.2 147.1) rotate(-90)" font-size="18.2" fill="#000" text-anchor="middle">Biomass (t.km-2)</text>
<path d="M44.9 544.4H442M44.9 459.7H442M44.9 375H442M119.2 316.2V555.4M232.5 316.2V555.4M345.8 316.2V555.4" stroke="#d6d6d6" stroke-width="1.1" fill="none"/>
<clipPath id="c1"><path d="M63 390 65.5 396.7 68 402.5 71.3 393.3 74.7 380 76.3 376.7 78.8 383.3 82.2 386.7 84.7 385 88 382.5 91.3 384.2 94.7 382.5 98 377.5 100.5 379.2 103.8 380 107.2 380 108 393.3 110 413.3 113 403.3 116.3 399.2 118.8 401.7 120.5 383.3 123 385 125.5 389.2 128 388.3 130.5 385 132.7 375 135 383.3 137.2 385 140.5 382.5 143 384.2 146.3 383.7 149.7 383.3 153 380 155 369.2 157.2 374.2 159.7 378.3 163 374.2 164.7 380 166.3 388.3 169.7 385 173 383.3 176.3 384.2 179.7 384.2 183 383.3 186.3 384.2 188 390 190.5 389.2 193.8 387.5 197.2 387.5 200 375.8 202.2 378.3 205.5 380 208.8 380.8 210.5 393.3 212.2 401.7 214.7 398.3 218 396.7 221.3 395.8 224.7 394.2 228 393.3 232.2 394.2 233.3 380 235 366.7 237.2 372.5 239.3 374.2 242.2 374.2 243.8 385 245.5 393.3 248 388.3 251.3 386.7 254.7 383.3 257.2 375.8 259.7 376.7 263 378.3 265.5 377.5 267.7 368.3 270.5 373 273 375 275.5 375 278 376.7 279.7 382.5 283 380.8 286.3 380 288.8 379.2 290.5 385 293 390 295.5 387.5 298 385.8 299.7 388.3 301.3 395.8 303 403.3 305.5 396.7 308 395 310.5 395.8 313 393.3 316.3 394.2 319.7 395 322.2 392.5 325.5 388.3 328.8 389.2 332.2 390.8 335.5 389.2 338.8 388.3 341.3 388.3 345.5 388.3 349.7 390 353.8 391.7 356.3 390.8 358 382.5 361.3 383.3 364.7 385 368 382.5 371.3 380.8 374.7 380 378.8 379.7 379.7 390 381.7 401.7 383.8 400 386.3 395.8 388.8 396.7 391.3 393.3 393.8 391.7 397.2 393.3 401.3 394.2 404.7 393.3 408 392.5 412 392.8 418.3 394.2 423.7 394.2 423.7 450.8 420 450.8 416.7 450.3 410 450 404.7 450 399.7 450.8 395.5 448.3 392.2 445 388.8 450 385.5 453.3 382.7 457.5 380.5 453.3 378.8 443.3 374.7 441.7 369.7 443.3 364.7 445 359.7 443.3 356.3 445 353 447.5 348 446.7 343 445 338 445 334.7 447.5 331.3 446.7 328 445 324.7 446.7 321.3 450 318 448.3 314.7 449.2 311.3 449.2 308 450 305.5 453.3 303 455.8 301.3 451.7 298.8 446.7 296.3 445 293.8 447.5 291.3 450 288 445.8 284.7 443.3 281.3 443.3 278 445 274.7 445 271.3 441.7 268 438.3 266.3 439.2 263 441.7 259.7 441.7 257.2 440 254.7 443.3 251.3 450 248.8 451.7 246.3 453.3 243.8 446.7 242.2 441.7 239.7 440 237.2 436.7 235 430 233.3 436.7 232.2 449.2 228 449.2 224.7 450 221.3 450 218 450.8 214.7 453.3 212.2 457.5 210.5 446.7 208 440 204.7 440.8 202 440 199 441 196.3 445 193 446.7 189.7 448.3 186.3 446.7 183 444.2 179.7 445 176.3 445.8 172.2 445 168.8 446.7 166.7 450.8 164.7 445 161.3 443.3 158 445 154.7 443.3 152.2 445 148 445.8 144.7 445 141.3 445.8 138 448.3 134.7 446.7 131.3 443.3 128.5 446 126.3 450 123 445 120.5 443.3 118 452.5 115.5 453.3 113 456.7 110 463.3 108 450 106.3 445 103 445.8 99.7 445 96.3 446.7 93 447.5 89.7 446.7 86.3 446.7 83 449.2 79.7 448.3 76.3 446.7 73 445 70.5 451.7 68 457.5 65.5 453.3 63 446.7 Z"/><circle cx="67.2" cy="347.5" r="3.3"/><circle cx="78.3" cy="387" r="3.3"/><circle cx="90" cy="402.2" r="3.3"/><circle cx="112.7" cy="426.7" r="3.3"/><circle cx="123.8" cy="433.3" r="3.3"/><circle cx="202" cy="400.8" r="3.3"/><circle cx="157.7" cy="432.8" r="3.3"/><circle cx="169.3" cy="442.5" r="3.3"/><circle cx="146.3" cy="453.3" r="3.3"/><circle cx="180.7" cy="453.8" r="3.3"/><circle cx="135" cy="473" r="3.3"/><circle cx="191.8" cy="492.5" r="3.3"/><circle cx="226" cy="346.7" r="3.3"/><circle cx="237.2" cy="393" r="3.3"/><circle cx="248.8" cy="396.2" r="3.3"/><circle cx="260" cy="383" r="3.3"/><circle cx="214.3" cy="465" r="3.3"/><circle cx="270.8" cy="451" r="3.3"/><circle cx="282.7" cy="402" r="3.3"/><circle cx="305" cy="396.2" r="3.3"/><circle cx="293.8" cy="421.7" r="3.3"/><circle cx="328" cy="456.3" r="3.3"/><circle cx="316.3" cy="482.8" r="3.3"/><circle cx="339.7" cy="429.2" r="3.3"/><circle cx="407.3" cy="369.7" r="3.3"/><circle cx="395.8" cy="382.5" r="3.3"/><circle cx="384.7" cy="403.8" r="3.3"/><circle cx="350.2" cy="456.2" r="3.3"/><circle cx="361.8" cy="455.5" r="3.3"/><circle cx="418.3" cy="391.7" r="3.3"/></clipPath>
<path d="M63 390 65.5 396.7 68 402.5 71.3 393.3 74.7 380 76.3 376.7 78.8 383.3 82.2 386.7 84.7 385 88 382.5 91.3 384.2 94.7 382.5 98 377.5 100.5 379.2 103.8 380 107.2 380 108 393.3 110 413.3 113 403.3 116.3 399.2 118.8 401.7 120.5 383.3 123 385 125.5 389.2 128 388.3 130.5 385 132.7 375 135 383.3 137.2 385 140.5 382.5 143 384.2 146.3 383.7 149.7 383.3 153 380 155 369.2 157.2 374.2 159.7 378.3 163 374.2 164.7 380 166.3 388.3 169.7 385 173 383.3 176.3 384.2 179.7 384.2 183 383.3 186.3 384.2 188 390 190.5 389.2 193.8 387.5 197.2 387.5 200 375.8 202.2 378.3 205.5 380 208.8 380.8 210.5 393.3 212.2 401.7 214.7 398.3 218 396.7 221.3 395.8 224.7 394.2 228 393.3 232.2 394.2 233.3 380 235 366.7 237.2 372.5 239.3 374.2 242.2 374.2 243.8 385 245.5 393.3 248 388.3 251.3 386.7 254.7 383.3 257.2 375.8 259.7 376.7 263 378.3 265.5 377.5 267.7 368.3 270.5 373 273 375 275.5 375 278 376.7 279.7 382.5 283 380.8 286.3 380 288.8 379.2 290.5 385 293 390 295.5 387.5 298 385.8 299.7 388.3 301.3 395.8 303 403.3 305.5 396.7 308 395 310.5 395.8 313 393.3 316.3 394.2 319.7 395 322.2 392.5 325.5 388.3 328.8 389.2 332.2 390.8 335.5 389.2 338.8 388.3 341.3 388.3 345.5 388.3 349.7 390 353.8 391.7 356.3 390.8 358 382.5 361.3 383.3 364.7 385 368 382.5 371.3 380.8 374.7 380 378.8 379.7 379.7 390 381.7 401.7 383.8 400 386.3 395.8 388.8 396.7 391.3 393.3 393.8 391.7 397.2 393.3 401.3 394.2 404.7 393.3 408 392.5 412 392.8 418.3 394.2 423.7 394.2 423.7 450.8 420 450.8 416.7 450.3 410 450 404.7 450 399.7 450.8 395.5 448.3 392.2 445 388.8 450 385.5 453.3 382.7 457.5 380.5 453.3 378.8 443.3 374.7 441.7 369.7 443.3 364.7 445 359.7 443.3 356.3 445 353 447.5 348 446.7 343 445 338 445 334.7 447.5 331.3 446.7 328 445 324.7 446.7 321.3 450 318 448.3 314.7 449.2 311.3 449.2 308 450 305.5 453.3 303 455.8 301.3 451.7 298.8 446.7 296.3 445 293.8 447.5 291.3 450 288 445.8 284.7 443.3 281.3 443.3 278 445 274.7 445 271.3 441.7 268 438.3 266.3 439.2 263 441.7 259.7 441.7 257.2 440 254.7 443.3 251.3 450 248.8 451.7 246.3 453.3 243.8 446.7 242.2 441.7 239.7 440 237.2 436.7 235 430 233.3 436.7 232.2 449.2 228 449.2 224.7 450 221.3 450 218 450.8 214.7 453.3 212.2 457.5 210.5 446.7 208 440 204.7 440.8 202 440 199 441 196.3 445 193 446.7 189.7 448.3 186.3 446.7 183 444.2 179.7 445 176.3 445.8 172.2 445 168.8 446.7 166.7 450.8 164.7 445 161.3 443.3 158 445 154.7 443.3 152.2 445 148 445.8 144.7 445 141.3 445.8 138 448.3 134.7 446.7 131.3 443.3 128.5 446 126.3 450 123 445 120.5 443.3 118 452.5 115.5 453.3 113 456.7 110 463.3 108 450 106.3 445 103 445.8 99.7 445 96.3 446.7 93 447.5 89.7 446.7 86.3 446.7 83 449.2 79.7 448.3 76.3 446.7 73 445 70.5 451.7 68 457.5 65.5 453.3 63 446.7 Z" fill="#7e7e7e" fill-opacity="0.5"/>
<path d="M63 428.3C63.5 428.9 65.2 430.7 66.3 431.7C67.4 432.7 68.6 435 69.7 434.2C70.8 433.4 72 429.1 73 426.7C74 424.3 74.7 420.6 75.5 420C76.3 419.4 76.9 421.9 78 423.3C79.1 424.7 81 428.2 82.2 428.3C83.5 428.4 84.4 425 85.5 424.2C86.6 423.4 87.7 423.2 88.8 423.3C89.9 423.4 91.1 425 92.2 425C93.3 425 94.5 424 95.5 423.3C96.5 422.6 97 420.9 98 420.8C99 420.7 100.2 422.4 101.3 422.5C102.4 422.6 103.7 421.4 104.7 421.3C105.7 421.2 106.7 420.5 107.2 421.7C107.8 422.9 107.5 424.1 108 428.3C108.5 432.5 109.7 445.3 110.5 446.7C111.3 448.1 112.2 439.2 113 436.7C113.8 434.2 114.7 433.1 115.5 431.7C116.3 430.3 117.2 430.1 118 428.3C118.8 426.5 119.7 421.6 120.5 420.8C121.3 420 122.2 422.3 123 423.3C123.8 424.3 124.7 426.4 125.5 426.7C126.3 427 127.2 426.7 128 425C128.8 423.3 129.7 417.9 130.5 416.7C131.3 415.4 132.2 416.4 133 417.5C133.8 418.6 134.7 421.9 135.5 423.3C136.3 424.7 137.2 425.8 138 425.8C138.8 425.8 139.7 423.4 140.5 423.3C141.3 423.2 142 424.7 143 425C144 425.3 145.1 425 146.3 425C147.6 425 149.4 426.1 150.5 425C151.6 423.9 152.3 420.2 153 418.3C153.7 416.4 154 413.6 154.7 413.3C155.4 413 156.4 415.4 157.2 416.7C158 417.9 158.9 420.2 159.7 420.8C160.5 421.4 161.4 419.6 162.2 420C163 420.4 163.9 421.6 164.7 423.3C165.5 425 166.4 429.6 167.2 430C168 430.4 168.9 426.8 169.7 425.8C170.5 424.8 171.2 424.3 172.2 424.2C173.2 424.1 174.4 424.9 175.5 425C176.6 425.1 177.7 425.1 178.8 425C179.9 424.9 181.1 424.2 182.2 424.2C183.3 424.2 184.5 424.3 185.5 425C186.5 425.7 187.2 427.8 188 428.3C188.8 428.9 189.5 428.6 190.5 428.3C191.5 428 192.7 427.2 193.8 426.7C194.9 426.1 196.2 426.2 197.2 425C198.1 423.8 198.5 419.9 199.5 419.5C200.5 419.1 201.9 421.9 203 422.5C204.1 423.1 205.3 422.9 206.3 423.3C207.3 423.7 208.1 423.3 208.8 425C209.5 426.7 209.8 430.9 210.5 433.3C211.2 435.7 211.9 439.3 212.7 439.2C213.5 439.1 214.5 433.8 215.5 432.5C216.5 431.2 217.7 432 218.8 431.7C219.9 431.4 221.1 431.1 222.2 430.8C223.3 430.5 224.2 430.2 225.5 430C226.8 429.8 228.6 430 229.7 429.7C230.8 429.4 231.6 430.8 232.2 428.3C232.8 425.9 232.8 418.1 233.3 415C233.8 411.9 234.3 410.1 235 410C235.7 409.9 236.4 412.8 237.2 414.2C238 415.6 238.9 417.6 239.7 418.3C240.5 419 241.4 417.5 242.2 418.3C243 419.1 243.6 420.8 244.3 423.3C245.1 425.8 245.9 432.2 246.7 433.3C247.4 434.4 248 430.7 248.8 430C249.6 429.3 250.3 430.3 251.3 429.2C252.3 428.1 253.7 425.2 254.7 423.3C255.7 421.4 256.4 418.2 257.2 417.5C258 416.8 258.7 418.8 259.7 419.2C260.7 419.6 262 420.4 263 420C264 419.6 264.7 417.7 265.5 416.7C266.3 415.7 266.9 413.9 267.7 414.2C268.5 414.5 269.6 417.1 270.5 418.3C271.4 419.6 272.2 421.4 273 421.7C273.8 422 274.7 419.4 275.5 420C276.3 420.6 277.2 424.4 278 425C278.8 425.6 279.7 424 280.5 423.3C281.3 422.6 282 421.1 283 420.8C284 420.5 285.3 421 286.3 421.7C287.3 422.4 288 423.8 288.8 425C289.6 426.2 290.5 428.8 291.3 429.2C292.1 429.6 293 428.2 293.8 427.5C294.6 426.8 295.5 425 296.3 425C297.1 425 298 426.1 298.8 427.5C299.6 428.9 300.6 431.8 301.3 433.3C302.1 434.8 302.6 436.7 303.3 436.7C304 436.7 304.7 434.1 305.5 433.3C306.3 432.5 307 432.2 308 431.7C309 431.1 310.3 430.1 311.3 430C312.3 429.9 313 430.5 313.8 430.8C314.6 431.1 315.5 431.7 316.3 431.7C317.1 431.7 318 431.1 318.8 430.8C319.6 430.5 320.3 430.7 321.3 430C322.3 429.3 323.6 427.1 324.7 426.7C325.8 426.3 326.9 427.1 328 427.5C329.1 427.9 330.2 428.9 331.3 429.2C332.4 429.5 333.6 429.6 334.7 429.2C335.8 428.8 336.9 427.4 338 426.7C339.1 426 340.1 425 341.3 425C342.6 425 344.1 426.3 345.5 426.7C346.9 427.1 348.3 427.2 349.7 427.5C351.1 427.8 352.7 428.6 353.8 428.3C354.9 428 355.5 426.9 356.3 425.8C357.1 424.7 358 422.1 358.8 421.7C359.6 421.3 360.3 422.6 361.3 423.3C362.3 424 363.6 425.8 364.7 425.8C365.8 425.8 366.9 424.1 368 423.3C369.1 422.5 370.2 421.1 371.3 420.8C372.4 420.5 373.4 421.3 374.7 421.7C375.9 422.1 377.8 421.9 378.8 423.3C379.8 424.7 379.9 427.5 380.5 430C381.1 432.5 382 437.5 382.7 438.3C383.4 439.1 383.8 435.8 384.7 435C385.6 434.2 386.9 434 388 433.3C389.1 432.6 390.2 431.1 391.3 430.8C392.4 430.5 393.6 431.3 394.7 431.7C395.8 432.1 396.9 433.3 398 433.3C399.1 433.3 400.2 432.1 401.3 431.7C402.4 431.3 403 431.1 404.7 430.8C406.4 430.5 409.4 430 411.7 430C414 430 416.3 430.5 418.3 430.8C420.3 431.1 422.8 431.6 423.7 431.7" fill="none" stroke="#333333" stroke-width="3.3" stroke-linejoin="round"/>
<g fill="#a5a5a5" stroke="#5a5a5a" stroke-width="1">
<circle cx="67.2" cy="347.5" r="2.85"/>
<circle cx="78.3" cy="387" r="2.85"/>
<circle cx="90" cy="402.2" r="2.85"/>
<circle cx="112.7" cy="426.7" r="2.85"/>
<circle cx="123.8" cy="433.3" r="2.85"/>
<circle cx="202" cy="400.8" r="2.85"/>
<circle cx="157.7" cy="432.8" r="2.85"/>
<circle cx="169.3" cy="442.5" r="2.85"/>
<circle cx="146.3" cy="453.3" r="2.85"/>
<circle cx="180.7" cy="453.8" r="2.85"/>
<circle cx="135" cy="473" r="2.85"/>
<circle cx="191.8" cy="492.5" r="2.85"/>
<circle cx="226" cy="346.7" r="2.85"/>
<circle cx="237.2" cy="393" r="2.85"/>
<circle cx="248.8" cy="396.2" r="2.85"/>
<circle cx="260" cy="383" r="2.85"/>
<circle cx="214.3" cy="465" r="2.85"/>
<circle cx="270.8" cy="451" r="2.85"/>
<circle cx="282.7" cy="402" r="2.85"/>
<circle cx="305" cy="396.2" r="2.85"/>
<circle cx="293.8" cy="421.7" r="2.85"/>
<circle cx="328" cy="456.3" r="2.85"/>
<circle cx="316.3" cy="482.8" r="2.85"/>
<circle cx="339.7" cy="429.2" r="2.85"/>
<circle cx="407.3" cy="369.7" r="2.85"/>
<circle cx="395.8" cy="382.5" r="2.85"/>
<circle cx="384.7" cy="403.8" r="2.85"/>
<circle cx="350.2" cy="456.2" r="2.85"/>
<circle cx="361.8" cy="455.5" r="2.85"/>
<circle cx="418.3" cy="391.7" r="2.85"/>
</g>
<g fill="none" stroke-width="3.1" stroke-linejoin="round">
<path d="M63 428.3C63.5 429 65.2 431.1 66.3 432.5C67.4 433.9 68.6 436.8 69.7 436.7C70.8 436.6 71.9 432.9 73 431.7C74.1 430.4 75.2 429.2 76.3 429.2C77.4 429.2 78.6 431.1 79.7 431.7C80.8 432.2 81.9 432.8 83 432.5C84.1 432.2 85.2 430.3 86.3 430C87.4 429.7 88.6 430.5 89.7 430.8C90.8 431.1 91.9 432 93 431.7C94.1 431.4 95.3 430.3 96.3 429.2C97.3 428.1 97.8 425.4 98.8 425C99.8 424.6 101.1 426.3 102.2 426.7C103.3 427.1 104.6 427.2 105.5 427.5C106.4 427.8 107.2 426.5 107.7 428.3C108.2 430.1 107.9 434.1 108.3 438.3C108.7 442.5 109.2 451.9 110 453.3C110.8 454.7 112.1 448.1 113 446.7C113.9 445.3 114.7 446.1 115.5 445C116.3 443.9 117.2 443.1 118 440C118.8 436.9 119.5 428.1 120.5 426.7C121.5 425.3 122.8 430.4 123.8 431.7C124.8 432.9 125.5 434.6 126.3 434.2C127.1 433.8 127.8 430.8 128.5 429C129.2 427.2 129.9 424.5 130.5 423.3C131.1 422.1 131.5 421.1 132.2 421.7C132.9 422.3 133.7 425.3 134.7 426.7C135.7 428.1 136.9 429.2 138 430C139.1 430.8 140.3 431 141.3 431.7C142.3 432.4 143 434.2 143.8 434.2C144.6 434.2 145.2 432.3 146.3 431.7C147.4 431.1 149.4 432.2 150.5 430.8C151.6 429.4 152.3 425.1 153 423.3C153.7 421.5 154 420 154.7 420C155.4 420 156.4 422.2 157.2 423.3C158 424.4 158.9 426 159.7 426.7C160.5 427.4 161.4 426.7 162.2 427.5C163 428.3 163.9 429.9 164.7 431.7C165.4 433.5 165.9 437.9 166.7 438.3C167.5 438.7 168.8 435.4 169.7 434.2C170.6 432.9 171.2 431.2 172.2 430.8C173.2 430.4 174.4 431.4 175.5 431.7C176.6 432 177.7 432.5 178.8 432.5C179.9 432.5 181.1 431.8 182.2 431.7C183.3 431.6 184.5 431.1 185.5 431.7C186.5 432.2 187.2 434.2 188 435C188.8 435.8 189.5 437 190.5 436.7C191.5 436.4 192.7 434 193.8 433.3C194.9 432.6 196.2 434.1 197.2 432.5C198.1 430.9 198.5 424.8 199.5 424C200.5 423.2 201.9 426.6 203 427.5C204.1 428.4 205.3 428.8 206.3 429.2C207.3 429.6 208.1 428.8 208.8 430C209.5 431.2 209.8 434.9 210.5 436.7C211.2 438.5 211.9 440.5 212.7 440.8C213.5 441.1 214.5 438.9 215.5 438.3C216.5 437.8 217.6 437.8 218.8 437.5C220.1 437.2 221.6 437 223 436.7C224.4 436.4 225.7 436.1 227.2 435.8C228.7 435.5 231.2 437.6 232.2 435C233.2 432.4 232.8 423.3 233.3 420C233.8 416.7 234.3 415.3 235 415C235.7 414.7 236.4 416.9 237.2 418.3C238 419.7 238.9 422.1 239.7 423.3C240.5 424.6 241.4 425 242.2 425.8C243 426.6 243.6 426.5 244.3 428.3C245.1 430.1 245.9 435.6 246.7 436.7C247.4 437.8 248 435.4 248.8 435C249.6 434.6 250.3 434.8 251.3 434.2C252.3 433.6 253.7 433.5 254.7 431.7C255.7 429.9 256.4 424.6 257.2 423.3C258 422.1 258.7 423.8 259.7 424.2C260.7 424.6 262 425.9 263 425.8C264 425.7 264.7 424.4 265.5 423.3C266.3 422.2 266.9 419.3 267.7 419.2C268.5 419.1 269.6 421.4 270.5 422.5C271.4 423.6 272 425.1 273 425.8C274 426.5 275.3 426 276.3 426.7C277.3 427.4 278 429.6 278.8 430C279.6 430.4 280.5 429.8 281.3 429.2C282.1 428.6 283 426.8 283.8 426.7C284.6 426.6 285.5 427.3 286.3 428.3C287.1 429.3 288 431.4 288.8 432.5C289.6 433.6 290.5 434.9 291.3 435C292.1 435.1 293 433.9 293.8 433.3C294.6 432.8 295.5 432 296.3 431.7C297.1 431.4 298 430.9 298.8 431.7C299.6 432.5 300.6 435.3 301.3 436.7C302.1 438.1 302.6 439.7 303.3 440C304 440.3 304.6 438.9 305.5 438.3C306.4 437.8 307.7 437.4 308.8 436.7C309.9 436 311.1 434.5 312.2 434.2C313.3 433.9 314.4 434.9 315.5 435C316.6 435.1 317.7 435.1 318.8 435C319.9 434.9 321.1 435 322.2 434.2C323.3 433.4 324.4 430.6 325.5 430C326.6 429.4 327.7 430.4 328.8 430.8C329.9 431.2 331.1 432.1 332.2 432.5C333.3 432.9 334.4 433.4 335.5 433.3C336.6 433.2 337.6 432.2 338.8 431.7C340.1 431.1 341.5 430.1 343 430C344.5 429.9 346.3 430.4 348 430.8C349.7 431.2 351.6 432.6 353 432.5C354.4 432.4 355.3 431.2 356.3 430C357.3 428.8 358 425.6 358.8 425C359.6 424.4 360.3 426 361.3 426.7C362.3 427.4 363.6 429.1 364.7 429.2C365.8 429.3 366.9 427.9 368 427.5C369.1 427.1 370.2 426.8 371.3 426.7C372.4 426.6 373.4 426.6 374.7 426.7C375.9 426.8 377.8 426.1 378.8 427.5C379.8 428.9 379.9 432.8 380.5 435C381.1 437.2 381.9 440.2 382.7 440.8C383.5 441.4 384.5 439 385.5 438.3C386.5 437.6 387.8 437.7 388.8 436.7C389.8 435.7 390.3 432.9 391.3 432.5C392.3 432.1 393.6 433.6 394.7 434.2C395.8 434.8 396.9 435.7 398 435.8C399.1 435.9 400.2 435.3 401.3 435C402.4 434.7 403 434.4 404.7 434.2C406.4 434 409.4 433.7 411.7 433.7C414 433.7 416.3 434 418.3 434.2C420.3 434.4 422.8 434.6 423.7 434.7" stroke="#c3e9c3"/>
<path d="M63 428.3C63.5 429 65.2 431.1 66.3 432.5C67.4 433.9 68.6 436.8 69.7 436.7C70.8 436.6 71.9 432.9 73 431.7C74.1 430.4 75.2 429.2 76.3 429.2C77.4 429.2 78.6 431.1 79.7 431.7C80.8 432.2 81.9 432.8 83 432.5C84.1 432.2 85.2 430.3 86.3 430C87.4 429.7 88.6 430.5 89.7 430.8C90.8 431.1 91.9 432 93 431.7C94.1 431.4 95.3 430.3 96.3 429.2C97.3 428.1 97.8 425.4 98.8 425C99.8 424.6 101.1 426.3 102.2 426.7C103.3 427.1 104.6 427.2 105.5 427.5C106.4 427.8 107.2 426.5 107.7 428.3C108.2 430.1 107.9 434.1 108.3 438.3C108.7 442.5 109.2 451.9 110 453.3C110.8 454.7 112.1 448.1 113 446.7C113.9 445.3 114.7 446.1 115.5 445C116.3 443.9 117.2 443.1 118 440C118.8 436.9 119.5 428.1 120.5 426.7C121.5 425.3 122.8 430.4 123.8 431.7C124.8 432.9 125.5 434.6 126.3 434.2C127.1 433.8 127.8 430.8 128.5 429C129.2 427.2 129.9 424.5 130.5 423.3C131.1 422.1 131.5 421.1 132.2 421.7C132.9 422.3 133.7 425.3 134.7 426.7C135.7 428.1 136.9 429.2 138 430C139.1 430.8 140.3 431 141.3 431.7C142.3 432.4 143 434.2 143.8 434.2C144.6 434.2 145.2 432.3 146.3 431.7C147.4 431.1 149.4 432.2 150.5 430.8C151.6 429.4 152.3 425.1 153 423.3C153.7 421.5 154 420 154.7 420C155.4 420 156.4 422.2 157.2 423.3C158 424.4 158.9 426 159.7 426.7C160.5 427.4 161.4 426.7 162.2 427.5C163 428.3 163.9 429.9 164.7 431.7C165.4 433.5 165.9 437.9 166.7 438.3C167.5 438.7 168.8 435.4 169.7 434.2C170.6 432.9 171.2 431.2 172.2 430.8C173.2 430.4 174.4 431.4 175.5 431.7C176.6 432 177.7 432.5 178.8 432.5C179.9 432.5 181.1 431.8 182.2 431.7C183.3 431.6 184.5 431.1 185.5 431.7C186.5 432.2 187.2 434.2 188 435C188.8 435.8 189.5 437 190.5 436.7C191.5 436.4 192.7 434 193.8 433.3C194.9 432.6 196.2 434.1 197.2 432.5C198.1 430.9 198.5 424.8 199.5 424C200.5 423.2 201.9 426.6 203 427.5C204.1 428.4 205.3 428.8 206.3 429.2C207.3 429.6 208.1 428.8 208.8 430C209.5 431.2 209.8 434.9 210.5 436.7C211.2 438.5 211.9 440.5 212.7 440.8C213.5 441.1 214.5 438.9 215.5 438.3C216.5 437.8 217.6 437.8 218.8 437.5C220.1 437.2 221.6 437 223 436.7C224.4 436.4 225.7 436.1 227.2 435.8C228.7 435.5 231.2 437.6 232.2 435C233.2 432.4 232.8 423.3 233.3 420C233.8 416.7 234.3 415.3 235 415C235.7 414.7 236.4 416.9 237.2 418.3C238 419.7 238.9 422.1 239.7 423.3C240.5 424.6 241.4 425 242.2 425.8C243 426.6 243.6 426.5 244.3 428.3C245.1 430.1 245.9 435.6 246.7 436.7C247.4 437.8 248 435.4 248.8 435C249.6 434.6 250.3 434.8 251.3 434.2C252.3 433.6 253.7 433.5 254.7 431.7C255.7 429.9 256.4 424.6 257.2 423.3C258 422.1 258.7 423.8 259.7 424.2C260.7 424.6 262 425.9 263 425.8C264 425.7 264.7 424.4 265.5 423.3C266.3 422.2 266.9 419.3 267.7 419.2C268.5 419.1 269.6 421.4 270.5 422.5C271.4 423.6 272 425.1 273 425.8C274 426.5 275.3 426 276.3 426.7C277.3 427.4 278 429.6 278.8 430C279.6 430.4 280.5 429.8 281.3 429.2C282.1 428.6 283 426.8 283.8 426.7C284.6 426.6 285.5 427.3 286.3 428.3C287.1 429.3 288 431.4 288.8 432.5C289.6 433.6 290.5 434.9 291.3 435C292.1 435.1 293 433.9 293.8 433.3C294.6 432.8 295.5 432 296.3 431.7C297.1 431.4 298 430.9 298.8 431.7C299.6 432.5 300.6 435.3 301.3 436.7C302.1 438.1 302.6 439.7 303.3 440C304 440.3 304.6 438.9 305.5 438.3C306.4 437.8 307.7 437.4 308.8 436.7C309.9 436 311.1 434.5 312.2 434.2C313.3 433.9 314.4 434.9 315.5 435C316.6 435.1 317.7 435.1 318.8 435C319.9 434.9 321.1 435 322.2 434.2C323.3 433.4 324.4 430.6 325.5 430C326.6 429.4 327.7 430.4 328.8 430.8C329.9 431.2 331.1 432.1 332.2 432.5C333.3 432.9 334.4 433.4 335.5 433.3C336.6 433.2 337.6 432.2 338.8 431.7C340.1 431.1 341.5 430.1 343 430C344.5 429.9 346.3 430.4 348 430.8C349.7 431.2 351.6 432.6 353 432.5C354.4 432.4 355.3 431.2 356.3 430C357.3 428.8 358 425.6 358.8 425C359.6 424.4 360.3 426 361.3 426.7C362.3 427.4 363.6 429.1 364.7 429.2C365.8 429.3 366.9 427.9 368 427.5C369.1 427.1 370.2 426.8 371.3 426.7C372.4 426.6 373.4 426.6 374.7 426.7C375.9 426.8 377.8 426.1 378.8 427.5C379.8 428.9 379.9 432.8 380.5 435C381.1 437.2 381.9 440.2 382.7 440.8C383.5 441.4 384.5 439 385.5 438.3C386.5 437.6 387.8 437.7 388.8 436.7C389.8 435.7 390.3 432.9 391.3 432.5C392.3 432.1 393.6 433.6 394.7 434.2C395.8 434.8 396.9 435.7 398 435.8C399.1 435.9 400.2 435.3 401.3 435C402.4 434.7 403 434.4 404.7 434.2C406.4 434 409.4 433.7 411.7 433.7C414 433.7 416.3 434 418.3 434.2C420.3 434.4 422.8 434.6 423.7 434.7" stroke="#8ae678" clip-path="url(#c1)"/>
<path d="M63 428.3C63.5 429.3 65.2 432.2 66.3 434.2C67.4 436.1 68.6 438.5 69.7 440C70.8 441.5 71.9 442.9 73 443.3C74.1 443.7 74.6 442.7 76.3 442.5C78 442.3 80.5 442.1 83 442C85.5 441.9 88.5 441.8 91.3 441.7C94.1 441.6 96.9 441.4 99.7 441.3C102.5 441.2 105.8 441.2 108 441.3C110.2 441.4 111 441.8 113 442C115 442.2 117.2 442.4 119.7 442.5C122.2 442.6 125.2 442.6 128 442.5C130.8 442.4 133.5 442 136.3 441.7C139.1 441.4 141.9 440.9 144.7 440.8C147.5 440.7 150.2 440.7 153 440.8C155.8 440.9 158.5 441 161.3 441.3C164.1 441.6 166.9 442.2 169.7 442.5C172.5 442.8 175.2 442.9 178 443C180.8 443.1 183.5 443.2 186.3 443.3C189.1 443.4 192.1 443.3 194.7 443.3C197.3 443.3 192.8 443.3 202 443.3C211.2 443.3 233.7 443.3 250 443.3C266.3 443.3 284.7 443.3 300 443.3C315.3 443.3 328.7 443.2 342 443.3C355.3 443.4 366.4 443.7 380 443.8C393.6 443.9 416.4 443.8 423.7 443.8" stroke="#e6b96c"/>
<path d="M63 428.3C63.5 429.3 65.2 432.2 66.3 434.2C67.4 436.1 68.6 438.5 69.7 440C70.8 441.5 71.9 442.9 73 443.3C74.1 443.7 74.6 442.7 76.3 442.5C78 442.3 80.5 442.1 83 442C85.5 441.9 88.5 441.8 91.3 441.7C94.1 441.6 96.9 441.4 99.7 441.3C102.5 441.2 105.8 441.2 108 441.3C110.2 441.4 111 441.8 113 442C115 442.2 117.2 442.4 119.7 442.5C122.2 442.6 125.2 442.6 128 442.5C130.8 442.4 133.5 442 136.3 441.7C139.1 441.4 141.9 440.9 144.7 440.8C147.5 440.7 150.2 440.7 153 440.8C155.8 440.9 158.5 441 161.3 441.3C164.1 441.6 166.9 442.2 169.7 442.5C172.5 442.8 175.2 442.9 178 443C180.8 443.1 183.5 443.2 186.3 443.3C189.1 443.4 192.1 443.3 194.7 443.3C197.3 443.3 192.8 443.3 202 443.3C211.2 443.3 233.7 443.3 250 443.3C266.3 443.3 284.7 443.3 300 443.3C315.3 443.3 328.7 443.2 342 443.3C355.3 443.4 366.4 443.7 380 443.8C393.6 443.9 416.4 443.8 423.7 443.8" stroke="#e9967a" clip-path="url(#c1)"/>
</g>
<path d="M44.9 316.2V555.4H442" stroke="#4d4d4d" stroke-width="1.3" fill="none"/>
<path d="M41.4 544.4H44.9M41.4 459.7H44.9M41.4 375H44.9M119.2 555.4V558.4M232.5 555.4V558.4M345.8 555.4V558.4" stroke="#4d4d4d" stroke-width="1.1" fill="none"/>
<text x="38.6" y="550.5" font-size="17" fill="#333333" text-anchor="end">0</text>
<text x="38.6" y="465.8" font-size="17" fill="#333333" text-anchor="end">5</text>
<text x="38.6" y="381.1" font-size="17" fill="#333333" text-anchor="end">10</text>
<text x="119.2" y="572" font-size="17" fill="#333333" text-anchor="middle">1990</text>
<text x="232.5" y="572" font-size="17" fill="#333333" text-anchor="middle">2000</text>
<text x="345.8" y="572" font-size="17" fill="#333333" text-anchor="middle">2010</text>
<text x="243.4" y="307.4" font-size="19" fill="#000" text-anchor="middle">Phytoplankton - Large</text>
<text transform="translate(14.2 435.8) rotate(-90)" font-size="18.2" fill="#000" text-anchor="middle">Biomass (t.km-2)</text>
<path d="M44.9 833H442M44.9 777.7H442M44.9 722.4H442M44.9 667.1H442M44.9 611.8H442M119.2 605V843.6M232.5 605V843.6M345.8 605V843.6" stroke="#d6d6d6" stroke-width="1.1" fill="none"/>
<clipPath id="c2"><path d="M62.7 722.9 64.2 698.2 65.7 684.1 67.6 698.2 69.3 715 72.1 724.1 74.9 707.2 78.8 693.6 81.6 703.8 84.1 709.4 86.7 703.2 89.5 698.2 91.8 697 94.6 699.3 97.4 694.8 99.1 686.9 101.4 679 104.2 682.4 106.4 686.9 108 692.5 109.5 705 110.5 725 111.5 745 112.5 757 118 757 119.5 755 121 730 124 708.3 126 715 127.5 723 130.5 710 133 695 135.5 680.8 138 691.7 140.5 700 143.8 701.7 147.2 703.3 150.5 704.2 153 703.3 155.5 683.3 158 660 160.5 673.3 163 680 165.5 693.3 168 703.3 170.5 708.3 173 700 175.5 703.3 178 706.7 181.3 705.8 185.5 706.7 188 713.3 190.5 721.7 193.8 718.3 197.2 716.7 199 710 201 698 203 691.7 205.5 696.7 208 703.3 210.5 710 212.2 726.7 214.7 735 217.2 736.7 219.7 730 222.2 735 224.7 738.3 227.2 738.3 229.7 736.7 232.2 736.7 233.8 720 236.3 703.3 238 690.8 240.5 703.3 243 710 245.5 716.7 248 726.7 250.5 728.3 253 723.3 255.5 718.3 258 708.3 260.5 704.2 263 706.7 265.5 703.3 268 681.7 270.5 673.3 273 685 275.5 691.7 278 696.7 280.5 708.3 283 710 285.5 706.7 288 703.3 290.5 710 293 721.7 295.5 725 298.8 719.2 301.3 726.7 303 740 304.7 748.3 307.2 748.3 309.7 743.3 312.2 740 314.7 736.7 318 738.3 321.3 740 324.7 736.7 328 731.7 331.3 733.3 334.7 740 338 746.7 340 745 343 740 345.5 736.7 348 733.3 351.3 735 354.7 736.7 357.2 733.3 359.7 721.7 362.2 718.3 364.7 721.7 368 725 370.5 722.5 373.8 720 377.2 721.7 380.5 725 382.2 735 384.7 746.7 387.2 746.7 389.7 738.3 392.2 728.3 394.7 725 398 728.3 401.3 730 404.7 730 408 728.3 410 730.8 413.3 728.3 416.7 726.7 420 728.3 423.7 729.2 423.7 794.2 420 793.3 416.7 792.5 413.3 793.3 410 792.5 408 788.3 404.7 790 400.5 787.5 396.3 786.7 393 790.8 389.7 795 387.2 800.8 384.7 799.2 381.7 793.3 378.8 790 375.5 793.3 371.3 795 367.2 793.3 363 795 358.8 795.8 354.7 798.3 350.5 800 346.3 804.2 342.2 806.7 338 805 334.7 801.7 331.3 798.3 328 796.7 324.7 798.3 321.3 795 318 790 314.7 791.7 311.3 795 308 796.7 304.7 791.7 301.3 786.7 298 785 294.7 781.7 291.3 776.7 288 773.3 284.7 775 281.3 773.3 278 768.3 274.7 763.3 272 764 269 768 266.3 777.5 263 778.3 260.5 781.7 258 785 255.5 788.3 252.2 791.7 249.7 790 246.3 783.3 243 778.3 240.5 775 238 771.7 235.5 778.3 233 786.7 230.5 795 227.2 795 223 793.3 219.7 790.8 216.3 791.7 213.8 786.7 210.5 776.7 207.2 766.7 203.8 760 201 766 199 772 196.3 775.8 193 778.3 189.7 774.2 186.3 771.7 183 768.3 179.7 769.2 176.3 768.3 173 770 169.7 773.3 166.3 768.3 163 760 159.7 753.3 157.2 746.7 154.7 753.3 152.2 765 148 765.8 144.7 766.7 141.3 765 138 760 135.5 755 133 751.7 130.5 760 128 775 125.7 771.6 123 783 122 795 120 803 118 803 115.6 806 112.8 805 111 792 109.5 775 108 759 106.4 757.3 103 755.6 100.2 756.7 97.4 761.2 94 764.6 90.7 768 87.8 770.2 85 772.5 81.6 766.8 78.8 768 76 780.4 73.8 786.6 71.5 780.4 69.3 771.4 67 762.3 64.8 759 62.7 763.5 Z"/><circle cx="67.3" cy="635.7" r="3.3"/><circle cx="90" cy="663.5" r="3.3"/><circle cx="78.4" cy="699.7" r="3.3"/><circle cx="101.3" cy="693" r="3.3"/><circle cx="112.7" cy="715.8" r="3.3"/><circle cx="123.8" cy="721.7" r="3.3"/><circle cx="135" cy="699.7" r="3.3"/><circle cx="146.7" cy="719.7" r="3.3"/><circle cx="158" cy="739.7" r="3.3"/><circle cx="169.7" cy="713.7" r="3.3"/><circle cx="180.7" cy="702" r="3.3"/><circle cx="192.2" cy="731.3" r="3.3"/><circle cx="202" cy="699.5" r="3.3"/><circle cx="214.7" cy="735.8" r="3.3"/><circle cx="226" cy="755.5" r="3.3"/><circle cx="237.7" cy="736.7" r="3.3"/><circle cx="248.8" cy="759.7" r="3.3"/><circle cx="260" cy="756.2" r="3.3"/><circle cx="270.8" cy="756" r="3.3"/><circle cx="282.5" cy="764.7" r="3.3"/><circle cx="293.8" cy="766.3" r="3.3"/><circle cx="305" cy="767" r="3.3"/><circle cx="316.7" cy="735.3" r="3.3"/><circle cx="328" cy="742.8" r="3.3"/><circle cx="350.2" cy="737.8" r="3.3"/><circle cx="361.8" cy="726.7" r="3.3"/><circle cx="373" cy="763.3" r="3.3"/><circle cx="384.7" cy="763" r="3.3"/><circle cx="395.8" cy="726.3" r="3.3"/><circle cx="407.3" cy="726.3" r="3.3"/></clipPath>
<path d="M62.7 722.9 64.2 698.2 65.7 684.1 67.6 698.2 69.3 715 72.1 724.1 74.9 707.2 78.8 693.6 81.6 703.8 84.1 709.4 86.7 703.2 89.5 698.2 91.8 697 94.6 699.3 97.4 694.8 99.1 686.9 101.4 679 104.2 682.4 106.4 686.9 108 692.5 109.5 705 110.5 725 111.5 745 112.5 757 118 757 119.5 755 121 730 124 708.3 126 715 127.5 723 130.5 710 133 695 135.5 680.8 138 691.7 140.5 700 143.8 701.7 147.2 703.3 150.5 704.2 153 703.3 155.5 683.3 158 660 160.5 673.3 163 680 165.5 693.3 168 703.3 170.5 708.3 173 700 175.5 703.3 178 706.7 181.3 705.8 185.5 706.7 188 713.3 190.5 721.7 193.8 718.3 197.2 716.7 199 710 201 698 203 691.7 205.5 696.7 208 703.3 210.5 710 212.2 726.7 214.7 735 217.2 736.7 219.7 730 222.2 735 224.7 738.3 227.2 738.3 229.7 736.7 232.2 736.7 233.8 720 236.3 703.3 238 690.8 240.5 703.3 243 710 245.5 716.7 248 726.7 250.5 728.3 253 723.3 255.5 718.3 258 708.3 260.5 704.2 263 706.7 265.5 703.3 268 681.7 270.5 673.3 273 685 275.5 691.7 278 696.7 280.5 708.3 283 710 285.5 706.7 288 703.3 290.5 710 293 721.7 295.5 725 298.8 719.2 301.3 726.7 303 740 304.7 748.3 307.2 748.3 309.7 743.3 312.2 740 314.7 736.7 318 738.3 321.3 740 324.7 736.7 328 731.7 331.3 733.3 334.7 740 338 746.7 340 745 343 740 345.5 736.7 348 733.3 351.3 735 354.7 736.7 357.2 733.3 359.7 721.7 362.2 718.3 364.7 721.7 368 725 370.5 722.5 373.8 720 377.2 721.7 380.5 725 382.2 735 384.7 746.7 387.2 746.7 389.7 738.3 392.2 728.3 394.7 725 398 728.3 401.3 730 404.7 730 408 728.3 410 730.8 413.3 728.3 416.7 726.7 420 728.3 423.7 729.2 423.7 794.2 420 793.3 416.7 792.5 413.3 793.3 410 792.5 408 788.3 404.7 790 400.5 787.5 396.3 786.7 393 790.8 389.7 795 387.2 800.8 384.7 799.2 381.7 793.3 378.8 790 375.5 793.3 371.3 795 367.2 793.3 363 795 358.8 795.8 354.7 798.3 350.5 800 346.3 804.2 342.2 806.7 338 805 334.7 801.7 331.3 798.3 328 796.7 324.7 798.3 321.3 795 318 790 314.7 791.7 311.3 795 308 796.7 304.7 791.7 301.3 786.7 298 785 294.7 781.7 291.3 776.7 288 773.3 284.7 775 281.3 773.3 278 768.3 274.7 763.3 272 764 269 768 266.3 777.5 263 778.3 260.5 781.7 258 785 255.5 788.3 252.2 791.7 249.7 790 246.3 783.3 243 778.3 240.5 775 238 771.7 235.5 778.3 233 786.7 230.5 795 227.2 795 223 793.3 219.7 790.8 216.3 791.7 213.8 786.7 210.5 776.7 207.2 766.7 203.8 760 201 766 199 772 196.3 775.8 193 778.3 189.7 774.2 186.3 771.7 183 768.3 179.7 769.2 176.3 768.3 173 770 169.7 773.3 166.3 768.3 163 760 159.7 753.3 157.2 746.7 154.7 753.3 152.2 765 148 765.8 144.7 766.7 141.3 765 138 760 135.5 755 133 751.7 130.5 760 128 775 125.7 771.6 123 783 122 795 120 803 118 803 115.6 806 112.8 805 111 792 109.5 775 108 759 106.4 757.3 103 755.6 100.2 756.7 97.4 761.2 94 764.6 90.7 768 87.8 770.2 85 772.5 81.6 766.8 78.8 768 76 780.4 73.8 786.6 71.5 780.4 69.3 771.4 67 762.3 64.8 759 62.7 763.5 Z" fill="#7e7e7e" fill-opacity="0.5"/>
<path d="M62.7 722.9C63.3 722.5 65.1 719.8 66.4 720.7C67.7 721.7 69.2 726 70.4 728.6C71.6 731.2 72.9 736 73.8 736.4C74.7 736.8 75.2 733.2 76 730.8C76.8 728.4 77.9 723.1 78.8 721.8C79.7 720.5 80.6 722.5 81.6 722.9C82.5 723.3 83.5 724.3 84.5 724.1C85.5 723.9 86.6 722.5 87.8 721.8C89 721.1 90.6 720.5 91.8 720.1C93 719.7 94.2 720.1 95.2 719.5C96.2 718.9 97.2 717.5 98 716.2C98.8 714.9 99.4 712.7 100.2 711.7C101 710.7 102 710.2 103 710C104 709.8 105.5 710.4 106.4 710.5C107.3 710.6 107.6 707.4 108.3 710.6C109 713.9 109.6 721.8 110.5 730C111.4 738.2 112.9 755.1 113.8 759.6C114.7 764.1 115.2 758 116 757C116.8 756 118 755.9 118.8 753.3C119.6 750.7 119.8 745.3 120.6 741.3C121.4 737.3 122.9 730.9 123.9 729.4C124.9 727.9 125.6 731.1 126.5 732C127.4 732.9 128.6 736.6 129.4 734.9C130.2 733.2 130.8 725.7 131.5 722C132.2 718.3 133 714.8 133.9 712.8C134.8 710.8 136 709.7 136.7 710.1C137.4 710.5 137.2 713.4 138 715C138.8 716.6 140.2 718.9 141.3 720C142.4 721.1 143.6 721.3 144.7 721.7C145.8 722.1 146.9 722.4 148 722.5C149.1 722.6 150.5 723.2 151.3 722.5C152.1 721.8 152.3 721.5 153 718.3C153.7 715.1 154.7 706.5 155.5 703.3C156.3 700.1 157.2 699.5 158 699.2C158.8 698.9 159.7 700.5 160.5 701.7C161.3 703 162.2 704.2 163 706.7C163.8 709.2 164.7 713.7 165.5 716.7C166.3 719.8 167.2 723.3 168 725C168.8 726.7 169.7 727 170.5 726.7C171.3 726.4 172 723.7 173 723.3C174 722.9 175.2 723.9 176.3 724.2C177.4 724.5 178.6 724.7 179.7 725C180.8 725.3 181.9 725.5 183 725.8C184.1 726.1 185.3 725.7 186.3 726.7C187.3 727.7 188 730.3 188.8 731.7C189.6 733.1 190.3 734.3 191.3 735C192.3 735.7 193.6 735.9 194.7 735.8C195.8 735.7 197 736.6 198 734.2C199 731.9 199.7 724.5 200.5 721.7C201.3 718.9 202 717.8 203 717.5C204 717.2 205.2 719 206.3 720C207.4 721 208.7 721.1 209.7 723.3C210.7 725.5 211.4 730 212.2 733.3C213 736.6 213.9 741.2 214.7 743.3C215.5 745.4 216.4 745.8 217.2 745.8C218 745.8 218.7 743.1 219.7 743.3C220.7 743.4 221.8 746 223 746.7C224.2 747.4 225.8 747.5 227.2 747.5C228.6 747.5 230.3 748.5 231.3 747C232.3 745.5 232.3 742 233 738.3C233.7 734.6 234.7 728.3 235.5 725C236.3 721.7 237.2 719.1 238 718.3C238.8 717.5 239.7 718.9 240.5 720C241.3 721.1 242.2 722.8 243 725C243.8 727.2 244.7 730.8 245.5 733.3C246.3 735.8 247.2 738.8 248 740C248.8 741.2 249.7 741.1 250.5 740.8C251.3 740.5 252 739.3 253 738.3C254 737.3 255.3 736.7 256.3 735C257.3 733.3 258 730.1 258.8 728.3C259.6 726.5 260.3 724.8 261.3 724.2C262.3 723.7 263.7 726.5 264.7 725C265.7 723.5 266.2 718 267.2 715C268.2 712 269.5 707.8 270.5 706.7C271.5 705.6 272.2 707.5 273 708.3C273.8 709.1 274.7 710 275.5 711.7C276.3 713.4 277 716.1 278 718.3C279 720.5 280.2 724 281.3 725C282.4 726 283.7 724.5 284.7 724.2C285.7 723.9 286.4 722.9 287.2 723.3C288 723.7 288.9 725 289.7 726.7C290.5 728.4 291.2 731.8 292.2 733.3C293.2 734.8 294.4 735.4 295.5 735.8C296.6 736.2 297.8 735.1 298.8 735.8C299.8 736.5 300.5 737.6 301.3 740C302.1 742.4 303 747.6 303.8 750C304.6 752.4 305.3 753.8 306.3 754.2C307.3 754.6 308.6 753.2 309.7 752.5C310.8 751.8 311.9 750.7 313 750C314.1 749.3 315.2 748.3 316.3 748.3C317.4 748.3 318.6 749.6 319.7 750C320.8 750.4 321.9 751.1 323 750.8C324.1 750.5 325.2 749 326.3 748.3C327.4 747.6 328.6 746.7 329.7 746.7C330.8 746.7 331.9 747.5 333 748.3C334.1 749.1 335.2 751.3 336.3 751.7C337.4 752.1 338.9 750.9 339.7 750.8C340.5 750.6 340.5 751.2 341.3 750.8C342.1 750.4 343.6 749.3 344.7 748.3C345.8 747.3 346.9 745.7 348 745C349.1 744.3 350.2 744.2 351.3 744.2C352.4 744.2 353.7 745.7 354.7 745C355.7 744.3 356.4 741.7 357.2 740C358 738.3 358.9 736.1 359.7 735C360.5 733.9 361.4 733.3 362.2 733.3C363 733.3 363.7 734.4 364.7 735C365.7 735.6 366.9 736.7 368 736.7C369.1 736.7 370.2 735.4 371.3 735C372.4 734.6 373.6 734.2 374.7 734.2C375.8 734.2 377 734.6 378 735C379 735.4 379.8 735.6 380.5 736.7C381.2 737.8 381.5 739.1 382.2 741.7C382.9 744.3 383.9 750.4 384.7 752.5C385.5 754.6 386.2 754.5 387.2 754.2C388.2 753.9 389.5 752 390.5 750.8C391.5 749.5 392.2 748.2 393 746.7C393.8 745.2 394.7 742.4 395.5 741.7C396.3 741 397 742.1 398 742.5C399 742.9 400.1 744.1 401.3 744.2C402.5 744.3 403.6 743.6 405 743.3C406.4 743 408.6 742.8 410 742.5C411.4 742.2 412.2 742 413.3 741.7C414.4 741.4 415.6 740.9 416.7 740.8C417.8 740.6 418.8 740.7 420 740.8C421.2 740.9 423.1 741.2 423.7 741.3" fill="none" stroke="#333333" stroke-width="3.3" stroke-linejoin="round"/>
<g fill="#a5a5a5" stroke="#5a5a5a" stroke-width="1">
<circle cx="67.3" cy="635.7" r="2.85"/>
<circle cx="90" cy="663.5" r="2.85"/>
<circle cx="78.4" cy="699.7" r="2.85"/>
<circle cx="101.3" cy="693" r="2.85"/>
<circle cx="112.7" cy="715.8" r="2.85"/>
<circle cx="123.8" cy="721.7" r="2.85"/>
<circle cx="135" cy="699.7" r="2.85"/>
<circle cx="146.7" cy="719.7" r="2.85"/>
<circle cx="158" cy="739.7" r="2.85"/>
<circle cx="169.7" cy="713.7" r="2.85"/>
<circle cx="180.7" cy="702" r="2.85"/>
<circle cx="192.2" cy="731.3" r="2.85"/>
<circle cx="202" cy="699.5" r="2.85"/>
<circle cx="214.7" cy="735.8" r="2.85"/>
<circle cx="226" cy="755.5" r="2.85"/>
<circle cx="237.7" cy="736.7" r="2.85"/>
<circle cx="248.8" cy="759.7" r="2.85"/>
<circle cx="260" cy="756.2" r="2.85"/>
<circle cx="270.8" cy="756" r="2.85"/>
<circle cx="282.5" cy="764.7" r="2.85"/>
<circle cx="293.8" cy="766.3" r="2.85"/>
<circle cx="305" cy="767" r="2.85"/>
<circle cx="316.7" cy="735.3" r="2.85"/>
<circle cx="328" cy="742.8" r="2.85"/>
<circle cx="350.2" cy="737.8" r="2.85"/>
<circle cx="361.8" cy="726.7" r="2.85"/>
<circle cx="373" cy="763.3" r="2.85"/>
<circle cx="384.7" cy="763" r="2.85"/>
<circle cx="395.8" cy="726.3" r="2.85"/>
<circle cx="407.3" cy="726.3" r="2.85"/>
</g>
<g fill="none" stroke-width="3.1" stroke-linejoin="round">
<path d="M62.7 722.9C63.3 722.5 65.1 720 66.4 720.7C67.7 721.5 69.2 725.5 70.4 727.4C71.6 729.3 72.8 732 73.8 732C74.8 732 75.6 728.7 76.6 727.4C77.6 726.1 78.7 724.1 80 724.1C81.3 724.1 83.2 727.2 84.5 727.4C85.8 727.6 86.6 725.9 87.8 725.2C89 724.6 90.4 724.2 91.8 723.5C93.2 722.8 95.1 722.4 96.3 721.2C97.5 720 98.2 717.6 99.1 716.2C99.9 714.8 100.6 713.5 101.4 712.8C102.2 712.1 103.2 712.4 104.2 712.2C105.2 712.1 106.5 710.1 107.3 711.9C108.1 713.7 108.7 718 109.2 722.9C109.8 727.8 110 735.2 110.6 741.3C111.2 747.4 112 755.1 112.8 759.6C113.6 764.1 114.6 765.5 115.5 768C116.4 770.5 117.2 774.6 118.3 774.3C119.4 774 120.8 769.3 122 766.1C123.2 762.9 124.7 757.1 125.7 755C126.7 752.9 127.2 754.5 128 753.3C128.8 752.1 129.7 751 130.5 748C131.3 745 132 738.8 133 735C134 731.2 135.4 727.3 136.5 725.5C137.6 723.7 138.6 724 139.7 724.2C140.8 724.4 141.9 725.9 143 726.7C144.1 727.5 145.2 728.8 146.3 729.2C147.4 729.6 148.6 729.6 149.7 729.2C150.8 728.8 152 729.9 153 726.7C154 723.5 154.7 714.5 155.5 710C156.3 705.5 157.2 701.8 158 700C158.8 698.2 159.7 698.9 160.5 699.2C161.3 699.5 162.2 699.9 163 701.7C163.8 703.5 164.7 706.4 165.5 710C166.3 713.6 167.2 720.5 168 723.3C168.8 726.1 169.5 725.7 170.5 726.7C171.5 727.7 172.6 728.5 173.8 729.2C175.1 729.9 176.6 730.2 178 730.8C179.4 731.3 180.8 731.9 182.2 732.5C183.6 733.1 185.1 733.2 186.3 734.2C187.6 735.2 188.7 736.9 189.7 738.3C190.7 739.7 191.4 741.7 192.2 742.5C193 743.3 193.7 743.7 194.7 743.3C195.7 742.9 197 741.7 198 740C199 738.3 199.7 735.5 200.5 733C201.3 730.5 202 726.5 203 725C204 723.5 205.3 724.2 206.3 724.2C207.3 724.2 208 723.5 208.8 725C209.6 726.5 210.5 729.7 211.3 733.3C212.1 736.9 213 743.8 213.8 746.7C214.6 749.6 215.5 750 216.3 750.8C217.1 751.6 217.8 751.3 218.8 751.7C219.8 752.1 221.1 752.8 222.2 753.3C223.3 753.8 224.4 754.3 225.5 755C226.6 755.7 227.7 756.8 228.8 757.5C229.9 758.2 231.4 760.5 232.2 759.2C233 758 233.2 753.2 233.8 750C234.4 746.8 234.8 742.4 235.5 740C236.2 737.6 237 737 238 735.8C239 734.5 240.3 732.9 241.3 732.5C242.3 732.1 243 731.8 243.8 733.3C244.6 734.8 245.5 739.2 246.3 741.7C247.1 744.2 248 747 248.8 748.3C249.6 749.5 250.3 749.2 251.3 749.2C252.3 749.2 253.6 749.3 254.7 748.3C255.8 747.3 256.9 744.7 258 743.3C259.1 741.9 260.2 740.5 261.3 740C262.4 739.5 263.7 741.4 264.7 740C265.7 738.6 266.4 735.4 267.2 731.7C268 728 268.7 721 269.5 718C270.3 715 271 714.8 272 714C273 713.2 274.5 712.6 275.5 713.3C276.5 714 277.2 716.1 278 718.3C278.8 720.5 279.5 724.5 280.5 726.7C281.5 728.9 282.7 730.6 283.8 731.7C284.9 732.8 286.2 732.5 287.2 733.3C288.2 734.1 288.9 735 289.7 736.7C290.5 738.4 291.4 741.4 292.2 743.3C293 745.2 293.7 747.2 294.7 748.3C295.7 749.4 296.9 748.9 298 750C299.1 751.1 300.3 752.8 301.3 755C302.3 757.2 302.8 760.8 303.8 763.3C304.8 765.8 306.1 768.6 307.2 770C308.3 771.4 309.4 772 310.5 771.7C311.6 771.4 312.7 769.4 313.8 768.3C314.9 767.2 315.9 765.8 317.2 765C318.4 764.2 319.9 764 321.3 763.3C322.7 762.6 324.2 761.6 325.5 760.8C326.8 760 327.7 758.8 328.8 758.3C329.9 757.8 331.2 757.2 332.2 757.5C333.2 757.8 333.9 758.8 334.7 760C335.5 761.2 336.4 763.5 337.2 765C338 766.5 339 768.4 339.7 769.2C340.4 770 340.5 769.6 341.3 770C342.1 770.4 343.6 772 344.7 771.7C345.8 771.4 346.8 769.4 348 768.3C349.2 767.2 350.8 766 352.2 765C353.6 764 355.1 763.9 356.3 762.5C357.6 761.1 358.6 758.9 359.7 756.7C360.8 754.5 361.8 750.6 363 749.2C364.2 747.8 365.8 748.4 367.2 748.3C368.6 748.1 369.9 748.3 371.3 748.3C372.7 748.3 374.1 748.1 375.5 748.3C376.9 748.4 378.6 748.1 379.7 749.2C380.8 750.3 381.4 752.9 382.2 755C383 757.1 383.7 760.2 384.7 761.7C385.7 763.2 386.9 763.9 388 764.2C389.1 764.5 390.3 764.5 391.3 763.3C392.3 762 392.8 758.6 393.8 756.7C394.8 754.8 395.9 752.7 397.2 751.7C398.4 750.7 399.9 750.8 401.3 750.8C402.7 750.8 404.1 751.4 405.5 751.7C406.9 752 408.7 752.2 410 752.5C411.3 752.8 412.2 753.6 413.3 753.3C414.4 753 415.6 751.5 416.7 750.8C417.8 750.1 418.8 749.6 420 749.2C421.2 748.9 423.1 748.8 423.7 748.7" stroke="#c3e9c3"/>
<path d="M62.7 722.9C63.3 722.5 65.1 720 66.4 720.7C67.7 721.5 69.2 725.5 70.4 727.4C71.6 729.3 72.8 732 73.8 732C74.8 732 75.6 728.7 76.6 727.4C77.6 726.1 78.7 724.1 80 724.1C81.3 724.1 83.2 727.2 84.5 727.4C85.8 727.6 86.6 725.9 87.8 725.2C89 724.6 90.4 724.2 91.8 723.5C93.2 722.8 95.1 722.4 96.3 721.2C97.5 720 98.2 717.6 99.1 716.2C99.9 714.8 100.6 713.5 101.4 712.8C102.2 712.1 103.2 712.4 104.2 712.2C105.2 712.1 106.5 710.1 107.3 711.9C108.1 713.7 108.7 718 109.2 722.9C109.8 727.8 110 735.2 110.6 741.3C111.2 747.4 112 755.1 112.8 759.6C113.6 764.1 114.6 765.5 115.5 768C116.4 770.5 117.2 774.6 118.3 774.3C119.4 774 120.8 769.3 122 766.1C123.2 762.9 124.7 757.1 125.7 755C126.7 752.9 127.2 754.5 128 753.3C128.8 752.1 129.7 751 130.5 748C131.3 745 132 738.8 133 735C134 731.2 135.4 727.3 136.5 725.5C137.6 723.7 138.6 724 139.7 724.2C140.8 724.4 141.9 725.9 143 726.7C144.1 727.5 145.2 728.8 146.3 729.2C147.4 729.6 148.6 729.6 149.7 729.2C150.8 728.8 152 729.9 153 726.7C154 723.5 154.7 714.5 155.5 710C156.3 705.5 157.2 701.8 158 700C158.8 698.2 159.7 698.9 160.5 699.2C161.3 699.5 162.2 699.9 163 701.7C163.8 703.5 164.7 706.4 165.5 710C166.3 713.6 167.2 720.5 168 723.3C168.8 726.1 169.5 725.7 170.5 726.7C171.5 727.7 172.6 728.5 173.8 729.2C175.1 729.9 176.6 730.2 178 730.8C179.4 731.3 180.8 731.9 182.2 732.5C183.6 733.1 185.1 733.2 186.3 734.2C187.6 735.2 188.7 736.9 189.7 738.3C190.7 739.7 191.4 741.7 192.2 742.5C193 743.3 193.7 743.7 194.7 743.3C195.7 742.9 197 741.7 198 740C199 738.3 199.7 735.5 200.5 733C201.3 730.5 202 726.5 203 725C204 723.5 205.3 724.2 206.3 724.2C207.3 724.2 208 723.5 208.8 725C209.6 726.5 210.5 729.7 211.3 733.3C212.1 736.9 213 743.8 213.8 746.7C214.6 749.6 215.5 750 216.3 750.8C217.1 751.6 217.8 751.3 218.8 751.7C219.8 752.1 221.1 752.8 222.2 753.3C223.3 753.8 224.4 754.3 225.5 755C226.6 755.7 227.7 756.8 228.8 757.5C229.9 758.2 231.4 760.5 232.2 759.2C233 758 233.2 753.2 233.8 750C234.4 746.8 234.8 742.4 235.5 740C236.2 737.6 237 737 238 735.8C239 734.5 240.3 732.9 241.3 732.5C242.3 732.1 243 731.8 243.8 733.3C244.6 734.8 245.5 739.2 246.3 741.7C247.1 744.2 248 747 248.8 748.3C249.6 749.5 250.3 749.2 251.3 749.2C252.3 749.2 253.6 749.3 254.7 748.3C255.8 747.3 256.9 744.7 258 743.3C259.1 741.9 260.2 740.5 261.3 740C262.4 739.5 263.7 741.4 264.7 740C265.7 738.6 266.4 735.4 267.2 731.7C268 728 268.7 721 269.5 718C270.3 715 271 714.8 272 714C273 713.2 274.5 712.6 275.5 713.3C276.5 714 277.2 716.1 278 718.3C278.8 720.5 279.5 724.5 280.5 726.7C281.5 728.9 282.7 730.6 283.8 731.7C284.9 732.8 286.2 732.5 287.2 733.3C288.2 734.1 288.9 735 289.7 736.7C290.5 738.4 291.4 741.4 292.2 743.3C293 745.2 293.7 747.2 294.7 748.3C295.7 749.4 296.9 748.9 298 750C299.1 751.1 300.3 752.8 301.3 755C302.3 757.2 302.8 760.8 303.8 763.3C304.8 765.8 306.1 768.6 307.2 770C308.3 771.4 309.4 772 310.5 771.7C311.6 771.4 312.7 769.4 313.8 768.3C314.9 767.2 315.9 765.8 317.2 765C318.4 764.2 319.9 764 321.3 763.3C322.7 762.6 324.2 761.6 325.5 760.8C326.8 760 327.7 758.8 328.8 758.3C329.9 757.8 331.2 757.2 332.2 757.5C333.2 757.8 333.9 758.8 334.7 760C335.5 761.2 336.4 763.5 337.2 765C338 766.5 339 768.4 339.7 769.2C340.4 770 340.5 769.6 341.3 770C342.1 770.4 343.6 772 344.7 771.7C345.8 771.4 346.8 769.4 348 768.3C349.2 767.2 350.8 766 352.2 765C353.6 764 355.1 763.9 356.3 762.5C357.6 761.1 358.6 758.9 359.7 756.7C360.8 754.5 361.8 750.6 363 749.2C364.2 747.8 365.8 748.4 367.2 748.3C368.6 748.1 369.9 748.3 371.3 748.3C372.7 748.3 374.1 748.1 375.5 748.3C376.9 748.4 378.6 748.1 379.7 749.2C380.8 750.3 381.4 752.9 382.2 755C383 757.1 383.7 760.2 384.7 761.7C385.7 763.2 386.9 763.9 388 764.2C389.1 764.5 390.3 764.5 391.3 763.3C392.3 762 392.8 758.6 393.8 756.7C394.8 754.8 395.9 752.7 397.2 751.7C398.4 750.7 399.9 750.8 401.3 750.8C402.7 750.8 404.1 751.4 405.5 751.7C406.9 752 408.7 752.2 410 752.5C411.3 752.8 412.2 753.6 413.3 753.3C414.4 753 415.6 751.5 416.7 750.8C417.8 750.1 418.8 749.6 420 749.2C421.2 748.9 423.1 748.8 423.7 748.7" stroke="#8ae678" clip-path="url(#c2)"/>
<path d="M62.7 722.9C63.3 723.5 65.1 724.2 66.4 726.3C67.7 728.4 69 732.5 70.4 735.3C71.8 738.1 73.2 741.7 74.9 743.2C76.6 744.7 77.7 744.2 80.5 744.3C83.3 744.4 88 744 91.8 743.8C95.5 743.6 100.3 743.3 103 743.2C105.7 743.1 106 743 108 743.2C110 743.4 111.7 744.2 115 744.5C118.3 744.8 123 745 128 745C132.9 745 139.1 744.3 144.7 744.2C150.2 744.1 155.8 744.1 161.3 744.2C166.9 744.3 172.4 744.5 178 744.7C183.6 744.9 190.7 745.2 194.7 745.3C198.7 745.3 192.8 745 202 745C211.2 745 233.7 745 250 745C266.3 745 283.3 745.2 300 745.2C316.7 745.2 329.4 745.3 350 745.3C370.6 745.3 411.4 745.3 423.7 745.3" stroke="#e6b96c"/>
<path d="M62.7 722.9C63.3 723.5 65.1 724.2 66.4 726.3C67.7 728.4 69 732.5 70.4 735.3C71.8 738.1 73.2 741.7 74.9 743.2C76.6 744.7 77.7 744.2 80.5 744.3C83.3 744.4 88 744 91.8 743.8C95.5 743.6 100.3 743.3 103 743.2C105.7 743.1 106 743 108 743.2C110 743.4 111.7 744.2 115 744.5C118.3 744.8 123 745 128 745C132.9 745 139.1 744.3 144.7 744.2C150.2 744.1 155.8 744.1 161.3 744.2C166.9 744.3 172.4 744.5 178 744.7C183.6 744.9 190.7 745.2 194.7 745.3C198.7 745.3 192.8 745 202 745C211.2 745 233.7 745 250 745C266.3 745 283.3 745.2 300 745.2C316.7 745.2 329.4 745.3 350 745.3C370.6 745.3 411.4 745.3 423.7 745.3" stroke="#e9967a" clip-path="url(#c2)"/>
</g>
<path d="M44.9 605V843.6H442" stroke="#4d4d4d" stroke-width="1.3" fill="none"/>
<path d="M41.4 833H44.9M41.4 777.7H44.9M41.4 722.4H44.9M41.4 667.1H44.9M41.4 611.8H44.9M119.2 843.6V846.6M232.5 843.6V846.6M345.8 843.6V846.6" stroke="#4d4d4d" stroke-width="1.1" fill="none"/>
<text x="38.6" y="839.1" font-size="17" fill="#333333" text-anchor="end">0</text>
<text x="38.6" y="783.8" font-size="17" fill="#333333" text-anchor="end">5</text>
<text x="38.6" y="728.5" font-size="17" fill="#333333" text-anchor="end">10</text>
<text x="38.6" y="673.2" font-size="17" fill="#333333" text-anchor="end">15</text>
<text x="38.6" y="617.9" font-size="17" fill="#333333" text-anchor="end">20</text>
<text x="119.2" y="860.2" font-size="17" fill="#333333" text-anchor="middle">1990</text>
<text x="232.5" y="860.2" font-size="17" fill="#333333" text-anchor="middle">2000</text>
<text x="345.8" y="860.2" font-size="17" fill="#333333" text-anchor="middle">2010</text>
<text x="243.4" y="596.1" font-size="19" fill="#000" text-anchor="middle">Mesozooplankton - Small</text>
<text transform="translate(14.2 724.3) rotate(-90)" font-size="18.2" fill="#000" text-anchor="middle">Biomass (t.km-2)</text>
<path d="M44.9 1102.4H442M44.9 1054.1H442M44.9 1005.7H442M44.9 957.4H442M44.9 909H442M119.2 893.2V1112.2M232.5 893.2V1112.2M345.8 893.2V1112.2" stroke="#d6d6d6" stroke-width="1.1" fill="none"/>
<clipPath id="c3"><path d="M62.7 1051.1 64.8 1028.1 66.8 1010.5 68.8 999.7 70.8 993 72.9 997 75.6 995 78.3 984.9 81.6 978.1 84.4 980.1 87.1 980.1 90.4 979.5 93.1 982.2 95.8 984.2 98.5 983.5 101.2 982.2 103.9 983.5 106.6 986.9 108.7 990.3 110 1007.8 111 1026.8 112.9 1046.3 115.1 1048.6 119.6 1041.8 123 1037.3 127.5 1031.7 131.5 1024.9 134.3 1012.5 136 1002.4 137.7 1000.1 141 999.6 145.5 1002.4 150 1001.5 153.3 998.3 156.7 990 159.2 973.3 161.7 960 163.7 954.2 165.8 961.7 167.5 973.3 169.2 983.3 171.7 995 175 1000 178.3 1001.7 181.7 1001.7 185 1003.3 188.3 1006.7 191.7 1013.3 194.2 1018.3 196.7 1013.3 199.2 1010 200.8 1003.3 202.5 991.7 205 981.7 207.5 976.7 210 975 212.5 980 215 990 216.7 995 219.2 991.7 221.7 991.7 224 993.3 226.7 990 230 988.3 233.3 985 235 975 236.7 961.7 238.5 945 240.8 939.2 242.5 943 244.7 942.2 246 950 247.5 961.7 250.8 973.3 253 975 256.7 979 259.2 976.7 261.7 972.5 264.2 972.5 266.7 967 268.3 955 270 948.3 273.3 935.8 275.5 940 277.5 945 279.2 961.7 280.8 975 282.5 985 284.2 992 286.7 1000 289.2 1006.7 291.7 1010 293.3 1011.7 296.7 1017.5 300 1018.3 303.3 1018.3 306.7 1013.3 310 1006.7 313.3 996.7 316.7 988.3 320 980 322.7 975.2 325.8 965 327.6 953.4 330.8 940.5 333.4 934 335.7 947 339 958.3 343.8 961.6 346.1 960 348.1 948.6 351.9 945.3 356.8 943.7 360.1 934 363.3 923.6 366.6 924.2 369.8 935.6 373 940.5 377.9 941.1 380.2 943.7 381.8 938.8 383.8 953.4 386 969.7 387.7 975.2 390 972 392.5 966 395.8 956.7 399 950.8 402.3 953.4 405.5 959.9 410.4 959 413.6 956.7 416.2 943.7 419.5 935.6 423.7 932.3 423.7 1006.7 418.3 1006.7 415.8 1010 412.5 1013.3 409.2 1018.3 405.8 1021.7 402.5 1023.3 399.2 1025 395.8 1030 393.3 1035 390.8 1040 388.3 1040.8 385.8 1036.7 383.3 1028.3 380 1021.7 376.7 1016.7 373.3 1013.3 370 1010 366.7 1006.7 363.3 1010 360 1015 356.7 1020 353.3 1021.7 350 1025 346.7 1026.7 343.3 1028.3 340 1026.7 338.3 1020 336.7 1013.3 335 1006.7 333.3 1003.3 331.7 1003.3 329.2 1008.3 326.7 1016.7 324.2 1026.7 321.7 1036.7 319.2 1046.7 316.7 1055 313.3 1063.3 310 1066.7 306.7 1068.3 303.3 1066.7 300 1065 296.7 1065 293.3 1063.3 290 1056.7 286.7 1053.3 283.3 1053.3 280.8 1051.7 278.3 1046.7 275.8 1040 273.3 1036.7 270.8 1041.7 268.3 1050 265.8 1053.3 263.3 1051.7 260 1050 256.7 1048.3 254.2 1046.7 251.7 1043.3 249.2 1036.7 246.7 1030 245 1023.3 243.3 1020 240.8 1018.3 239.2 1015 237.5 1016.7 235.8 1023.3 233.3 1033.3 230 1038.3 226.7 1039.2 224 1040 221.7 1041.7 218.3 1040 215 1038.3 211.7 1040 208.3 1043.3 205 1046.7 202.5 1053.3 200 1060 196.7 1063.3 193.3 1063.3 190 1060.8 187.4 1059.8 181.8 1057.6 177.3 1056.4 173.3 1053.1 170.5 1046.3 167.7 1037.3 164.9 1027.2 162.6 1026 159.3 1029.4 153.6 1040.7 150 1048 145.5 1053.1 141 1059.8 136.5 1066.6 132 1071.1 127.5 1075.6 123 1080.1 119.6 1084.6 117.4 1085.7 115.1 1083.5 112.9 1074.5 111.5 1062 110 1050 108 1041.6 105.3 1036.2 102.6 1032.2 98.5 1029.5 95.2 1026.8 91.8 1024.1 88.4 1020 85 1016.6 81.6 1015.3 78.3 1016.6 75.6 1019.3 72.9 1024.1 70.2 1026.8 67.5 1029.5 64.8 1037.6 62.7 1051.1 Z"/><circle cx="67.5" cy="999.7" r="3.3"/><circle cx="78.9" cy="1036.9" r="3.3"/><circle cx="90" cy="1037.3" r="3.3"/><circle cx="101.5" cy="1043" r="3.3"/><circle cx="124.1" cy="1034.5" r="3.3"/><circle cx="135.4" cy="1041.8" r="3.3"/><circle cx="180.5" cy="970.8" r="3.3"/><circle cx="192" cy="993.7" r="3.3"/><circle cx="203.3" cy="1007.5" r="3.3"/><circle cx="215" cy="1038.7" r="3.3"/><circle cx="158" cy="1050" r="3.3"/><circle cx="225" cy="983.5" r="3.3"/><circle cx="237.2" cy="983.7" r="3.3"/><circle cx="260" cy="998.7" r="3.3"/><circle cx="249.2" cy="1004.7" r="3.3"/><circle cx="271.3" cy="988.7" r="3.3"/><circle cx="282.7" cy="1013.3" r="3.3"/><circle cx="293.5" cy="1029.2" r="3.3"/><circle cx="305" cy="1024.2" r="3.3"/><circle cx="328" cy="1022" r="3.3"/><circle cx="339.3" cy="1005.3" r="3.3"/><circle cx="350.8" cy="993" r="3.3"/><circle cx="361.5" cy="1019.8" r="3.3"/><circle cx="316.7" cy="1055.5" r="3.3"/><circle cx="373.3" cy="1013.3" r="3.3"/><circle cx="384.7" cy="1010.3" r="3.3"/><circle cx="396.3" cy="1018.7" r="3.3"/><circle cx="407.5" cy="985.8" r="3.3"/><circle cx="418.3" cy="1004.3" r="3.3"/></clipPath>
<path d="M62.7 1051.1 64.8 1028.1 66.8 1010.5 68.8 999.7 70.8 993 72.9 997 75.6 995 78.3 984.9 81.6 978.1 84.4 980.1 87.1 980.1 90.4 979.5 93.1 982.2 95.8 984.2 98.5 983.5 101.2 982.2 103.9 983.5 106.6 986.9 108.7 990.3 110 1007.8 111 1026.8 112.9 1046.3 115.1 1048.6 119.6 1041.8 123 1037.3 127.5 1031.7 131.5 1024.9 134.3 1012.5 136 1002.4 137.7 1000.1 141 999.6 145.5 1002.4 150 1001.5 153.3 998.3 156.7 990 159.2 973.3 161.7 960 163.7 954.2 165.8 961.7 167.5 973.3 169.2 983.3 171.7 995 175 1000 178.3 1001.7 181.7 1001.7 185 1003.3 188.3 1006.7 191.7 1013.3 194.2 1018.3 196.7 1013.3 199.2 1010 200.8 1003.3 202.5 991.7 205 981.7 207.5 976.7 210 975 212.5 980 215 990 216.7 995 219.2 991.7 221.7 991.7 224 993.3 226.7 990 230 988.3 233.3 985 235 975 236.7 961.7 238.5 945 240.8 939.2 242.5 943 244.7 942.2 246 950 247.5 961.7 250.8 973.3 253 975 256.7 979 259.2 976.7 261.7 972.5 264.2 972.5 266.7 967 268.3 955 270 948.3 273.3 935.8 275.5 940 277.5 945 279.2 961.7 280.8 975 282.5 985 284.2 992 286.7 1000 289.2 1006.7 291.7 1010 293.3 1011.7 296.7 1017.5 300 1018.3 303.3 1018.3 306.7 1013.3 310 1006.7 313.3 996.7 316.7 988.3 320 980 322.7 975.2 325.8 965 327.6 953.4 330.8 940.5 333.4 934 335.7 947 339 958.3 343.8 961.6 346.1 960 348.1 948.6 351.9 945.3 356.8 943.7 360.1 934 363.3 923.6 366.6 924.2 369.8 935.6 373 940.5 377.9 941.1 380.2 943.7 381.8 938.8 383.8 953.4 386 969.7 387.7 975.2 390 972 392.5 966 395.8 956.7 399 950.8 402.3 953.4 405.5 959.9 410.4 959 413.6 956.7 416.2 943.7 419.5 935.6 423.7 932.3 423.7 1006.7 418.3 1006.7 415.8 1010 412.5 1013.3 409.2 1018.3 405.8 1021.7 402.5 1023.3 399.2 1025 395.8 1030 393.3 1035 390.8 1040 388.3 1040.8 385.8 1036.7 383.3 1028.3 380 1021.7 376.7 1016.7 373.3 1013.3 370 1010 366.7 1006.7 363.3 1010 360 1015 356.7 1020 353.3 1021.7 350 1025 346.7 1026.7 343.3 1028.3 340 1026.7 338.3 1020 336.7 1013.3 335 1006.7 333.3 1003.3 331.7 1003.3 329.2 1008.3 326.7 1016.7 324.2 1026.7 321.7 1036.7 319.2 1046.7 316.7 1055 313.3 1063.3 310 1066.7 306.7 1068.3 303.3 1066.7 300 1065 296.7 1065 293.3 1063.3 290 1056.7 286.7 1053.3 283.3 1053.3 280.8 1051.7 278.3 1046.7 275.8 1040 273.3 1036.7 270.8 1041.7 268.3 1050 265.8 1053.3 263.3 1051.7 260 1050 256.7 1048.3 254.2 1046.7 251.7 1043.3 249.2 1036.7 246.7 1030 245 1023.3 243.3 1020 240.8 1018.3 239.2 1015 237.5 1016.7 235.8 1023.3 233.3 1033.3 230 1038.3 226.7 1039.2 224 1040 221.7 1041.7 218.3 1040 215 1038.3 211.7 1040 208.3 1043.3 205 1046.7 202.5 1053.3 200 1060 196.7 1063.3 193.3 1063.3 190 1060.8 187.4 1059.8 181.8 1057.6 177.3 1056.4 173.3 1053.1 170.5 1046.3 167.7 1037.3 164.9 1027.2 162.6 1026 159.3 1029.4 153.6 1040.7 150 1048 145.5 1053.1 141 1059.8 136.5 1066.6 132 1071.1 127.5 1075.6 123 1080.1 119.6 1084.6 117.4 1085.7 115.1 1083.5 112.9 1074.5 111.5 1062 110 1050 108 1041.6 105.3 1036.2 102.6 1032.2 98.5 1029.5 95.2 1026.8 91.8 1024.1 88.4 1020 85 1016.6 81.6 1015.3 78.3 1016.6 75.6 1019.3 72.9 1024.1 70.2 1026.8 67.5 1029.5 64.8 1037.6 62.7 1051.1 Z" fill="#7e7e7e" fill-opacity="0.5"/>
<path d="M62.7 1051.1C63.3 1048.9 65.1 1041.5 66.1 1038C67.1 1034.5 68.1 1031.9 68.8 1030C69.5 1028.1 69.3 1027.8 70.2 1026.8C71.1 1025.8 73.1 1025.7 74.2 1024.1C75.3 1022.5 76 1019.8 76.9 1017.3C77.8 1014.8 78.6 1011 79.6 1009.2C80.6 1007.4 81.8 1006.8 83 1006.5C84.2 1006.2 85.8 1006.9 87.1 1007.2C88.4 1007.5 89.9 1007.8 91.1 1008.5C92.3 1009.2 93.3 1010.3 94.5 1011.2C95.7 1012.1 97.3 1013.1 98.5 1013.9C99.7 1014.7 100.8 1014.6 101.9 1015.9C103 1017.1 104.4 1019.5 105.3 1021.4C106.2 1023.2 106.6 1024.2 107.3 1027C108 1029.8 108.8 1034.1 109.5 1038.4C110.2 1042.8 111.1 1048.8 111.8 1053.1C112.5 1057.4 112.8 1061.9 113.4 1064.3C114.1 1066.7 114.9 1067 115.7 1067.7C116.5 1068.4 117.6 1068.9 118.5 1068.3C119.4 1067.7 120.4 1065.7 121.3 1064.3C122.2 1062.9 123.1 1060.9 124.1 1059.8C125.1 1058.7 126.4 1058.3 127.5 1057.6C128.6 1056.8 129.9 1056.4 130.9 1055.3C131.9 1054.2 132.8 1052.3 133.7 1050.8C134.6 1049.3 135.5 1047.7 136.5 1046.3C137.5 1044.9 138.8 1043.3 139.9 1042.4C141 1041.5 142.2 1041.2 143.3 1040.7C144.4 1040.2 145.6 1040.2 146.7 1039.5C147.8 1038.8 148.9 1037.5 150 1036.5C151.1 1035.5 152.2 1036 153.3 1033.3C154.4 1030.5 155.6 1023.6 156.7 1020C157.8 1016.4 158.9 1013.5 160 1011.7C161.1 1009.9 162.3 1008.9 163.3 1009.2C164.3 1009.5 165.1 1011.2 165.8 1013.3C166.5 1015.4 166.8 1019.2 167.5 1021.7C168.2 1024.2 169 1026.2 170 1028.3C171 1030.4 172.2 1033.1 173.3 1034.2C174.4 1035.3 175.6 1035 176.7 1035C177.8 1035 178.9 1034.8 180 1034.2C181.1 1033.7 182.3 1032.4 183.3 1031.7C184.3 1031 185 1029.9 185.8 1030C186.6 1030.1 187.3 1031.5 188.3 1032.5C189.3 1033.5 190.6 1035 191.7 1035.8C192.8 1036.6 194 1037.2 195 1037.5C196 1037.8 196.7 1038.2 197.5 1037.5C198.3 1036.8 199.2 1035.7 200 1033.3C200.8 1030.9 201.7 1026.3 202.5 1023.3C203.3 1020.2 204.2 1017.2 205 1015C205.8 1012.8 206.7 1011.1 207.5 1010C208.3 1008.9 209.2 1007.8 210 1008.3C210.8 1008.8 211.7 1011.3 212.5 1013.3C213.3 1015.2 214.2 1018.6 215 1020C215.8 1021.4 216.7 1021.7 217.5 1021.7C218.3 1021.7 219 1020.4 220 1020C221 1019.6 222.2 1019.5 223.3 1019.2C224.4 1018.9 225.6 1018.9 226.7 1018.3C227.8 1017.7 228.9 1016.6 230 1015.8C231.1 1015 232.3 1015.4 233.3 1013.3C234.3 1011.2 235 1006.1 235.8 1003.3C236.6 1000.5 237.5 997.8 238.3 996.7C239.1 995.6 240 996.2 240.8 996.7C241.6 997.2 242.5 999 243.3 1000C244.1 1001 245.1 1001.1 245.8 1002.5C246.5 1003.9 246.8 1005.9 247.5 1008.3C248.2 1010.7 249.2 1014.8 250 1016.7C250.8 1018.7 251.7 1018.8 252.5 1020C253.3 1021.2 254.2 1023.1 255 1024.2C255.8 1025.3 256.7 1026.2 257.5 1026.7C258.3 1027.2 259.2 1027 260 1027.5C260.8 1028 261.7 1029 262.5 1030C263.3 1031 264.3 1033 265 1033.3C265.7 1033.6 266.1 1032.8 266.7 1031.7C267.2 1030.6 267.8 1028.4 268.3 1026.7C268.9 1025 269.3 1023.4 270 1021.7C270.7 1020 271.7 1017.8 272.5 1016.7C273.3 1015.6 274.2 1015.1 275 1015C275.8 1014.9 276.8 1014.7 277.5 1015.8C278.2 1016.9 278.5 1019.6 279.2 1021.7C279.9 1023.8 280.9 1026.4 281.7 1028.3C282.5 1030.2 283.4 1032 284.2 1033.3C285 1034.5 285.9 1035.1 286.7 1035.8C287.5 1036.5 288.4 1037 289.2 1037.5C290 1038 290.7 1038.3 291.7 1039C292.7 1039.7 294 1041.5 295 1041.7C296 1041.9 296.7 1040.8 297.5 1040C298.3 1039.2 299.2 1037.1 300 1036.7C300.8 1036.3 301.5 1037.2 302.5 1037.5C303.5 1037.8 304.8 1039 305.8 1038.3C306.8 1037.6 307.5 1035.8 308.3 1033.3C309.1 1030.8 310 1027.2 310.8 1023.3C311.6 1019.4 312.5 1014.2 313.3 1010C314.1 1005.8 315 1001.9 315.8 998.3C316.6 994.7 317.5 991.1 318.3 988.3C319.1 985.5 320 983.6 320.8 981.7C321.6 979.8 322.5 978.9 323.3 976.7C324.1 974.5 325 971.4 325.8 968.3C326.6 965.2 327.5 960.4 328.3 958.3C329.1 956.2 330 955.8 330.8 955.8C331.6 955.8 332.6 956.2 333.3 958.3C334 960.4 334.4 965 335 968.3C335.6 971.6 336.1 975 336.7 978.3C337.2 981.6 337.6 985 338.3 988.3C339 991.6 340 995.5 340.8 998.3C341.6 1001.1 342.5 1003.6 343.3 1005C344.1 1006.4 345 1006.4 345.8 1006.7C346.6 1007 347.5 1006.3 348.3 1006.7C349.1 1007.1 350 1008.4 350.8 1009.2C351.6 1010 352.5 1011 353.3 1011.7C354.1 1012.4 355 1013.9 355.8 1013.3C356.6 1012.7 357.5 1010.2 358.3 1008.3C359.1 1006.4 360.1 1003.5 360.8 1002C361.5 1000.5 361.8 1000.1 362.5 999.2C363.2 998.3 364.2 997 365 996.7C365.8 996.4 366.7 997.1 367.5 997.5C368.3 997.9 369.2 999.1 370 999.2C370.8 999.3 371.5 998.6 372.5 998.3C373.5 998 374.8 997.8 375.8 997.5C376.8 997.2 377.5 997.2 378.3 996.7C379.1 996.2 380.1 993.9 380.8 994.2C381.5 994.5 381.9 996.4 382.5 998.3C383.1 1000.2 383.6 1004.1 384.2 1005.8C384.8 1007.5 385.1 1008.3 385.8 1008.3C386.5 1008.3 387.5 1006.9 388.3 1005.8C389.1 1004.7 390 1003.5 390.8 1001.7C391.6 999.9 392.5 997.2 393.3 995C394.1 992.8 395 989.8 395.8 988.3C396.6 986.8 397.5 986.4 398.3 985.8C399.1 985.2 400 984.7 400.8 984.7C401.6 984.7 402.5 985.3 403.3 985.8C404.1 986.3 405 986.9 405.8 987.5C406.6 988.1 407.5 988.5 408.3 989.2C409.1 989.9 410 991 410.8 991.7C411.6 992.4 412.5 993.7 413.3 993.3C414.1 992.9 415 990.6 415.8 989.2C416.6 987.8 417.5 986 418.3 985C419.1 984 420 983.4 420.8 983C421.6 982.6 422.9 982.6 423.3 982.5" fill="none" stroke="#333333" stroke-width="3.3" stroke-linejoin="round"/>
<g fill="#a5a5a5" stroke="#5a5a5a" stroke-width="1">
<circle cx="67.5" cy="999.7" r="2.85"/>
<circle cx="78.9" cy="1036.9" r="2.85"/>
<circle cx="90" cy="1037.3" r="2.85"/>
<circle cx="101.5" cy="1043" r="2.85"/>
<circle cx="124.1" cy="1034.5" r="2.85"/>
<circle cx="135.4" cy="1041.8" r="2.85"/>
<circle cx="180.5" cy="970.8" r="2.85"/>
<circle cx="192" cy="993.7" r="2.85"/>
<circle cx="203.3" cy="1007.5" r="2.85"/>
<circle cx="215" cy="1038.7" r="2.85"/>
<circle cx="158" cy="1050" r="2.85"/>
<circle cx="225" cy="983.5" r="2.85"/>
<circle cx="237.2" cy="983.7" r="2.85"/>
<circle cx="260" cy="998.7" r="2.85"/>
<circle cx="249.2" cy="1004.7" r="2.85"/>
<circle cx="271.3" cy="988.7" r="2.85"/>
<circle cx="282.7" cy="1013.3" r="2.85"/>
<circle cx="293.5" cy="1029.2" r="2.85"/>
<circle cx="305" cy="1024.2" r="2.85"/>
<circle cx="328" cy="1022" r="2.85"/>
<circle cx="339.3" cy="1005.3" r="2.85"/>
<circle cx="350.8" cy="993" r="2.85"/>
<circle cx="361.5" cy="1019.8" r="2.85"/>
<circle cx="316.7" cy="1055.5" r="2.85"/>
<circle cx="373.3" cy="1013.3" r="2.85"/>
<circle cx="384.7" cy="1010.3" r="2.85"/>
<circle cx="396.3" cy="1018.7" r="2.85"/>
<circle cx="407.5" cy="985.8" r="2.85"/>
<circle cx="418.3" cy="1004.3" r="2.85"/>
</g>
<g fill="none" stroke-width="3.1" stroke-linejoin="round">
<path d="M62.7 1052.4C63.3 1051.3 64.8 1046.9 66.1 1045.7C67.3 1044.5 68.8 1045.4 70.2 1045C71.6 1044.6 72.9 1044.5 74.2 1043.5C75.5 1042.5 77.1 1039.7 78.3 1039.3C79.5 1038.9 80.5 1040.6 81.6 1041C82.7 1041.4 83.8 1042 85 1041.8C86.2 1041.6 87.8 1040.1 89.1 1040C90.4 1039.9 91.8 1041.2 93.1 1041.3C94.4 1041.4 95.8 1040.8 97.2 1040.5C98.6 1040.2 100.1 1039.6 101.2 1039.5C102.3 1039.4 102.9 1039.4 103.9 1040C104.9 1040.6 106.3 1041.4 107.3 1043C108.3 1044.6 109.2 1047.5 110 1049.7C110.8 1052 111.4 1054.4 112.1 1056.5C112.8 1058.6 113.3 1062.7 114 1062.1C114.7 1061.5 115.5 1056.7 116.3 1053.1C117.1 1049.5 118.2 1044.5 119.1 1040.7C120 1036.9 121 1033.3 121.9 1030.5C122.8 1027.7 123.8 1024.3 124.7 1023.8C125.6 1023.2 126.7 1025.7 127.5 1027.2C128.3 1028.7 129 1032.2 129.8 1032.8C130.7 1033.3 131.7 1031.2 132.6 1030.5C133.5 1029.8 134.5 1027.9 135.4 1028.3C136.3 1028.7 137.3 1031.1 138.2 1032.8C139.1 1034.5 140 1036.7 141 1038.4C142 1040.1 143.3 1041.8 144.4 1042.9C145.5 1044 146.7 1045.2 147.8 1045.2C148.9 1045.2 150.3 1044.2 151.2 1043C152.1 1041.8 152.4 1039.8 153.3 1038.3C154.2 1036.8 155.7 1034.5 156.7 1034.2C157.7 1033.9 158.4 1035.2 159.2 1036.7C160 1038.2 160.7 1041.1 161.7 1043.3C162.7 1045.5 163.9 1048.3 165 1050C166.1 1051.7 167.2 1053 168.3 1053.3C169.4 1053.6 170.6 1053 171.7 1051.7C172.8 1050.5 173.9 1047.2 175 1045.8C176.1 1044.4 177.2 1043.8 178.3 1043.3C179.4 1042.8 180.6 1042.8 181.7 1042.5C182.8 1042.2 183.9 1041.6 185 1041.7C186.1 1041.8 187.2 1042.9 188.3 1043.3C189.4 1043.7 190.6 1044.3 191.7 1044.2C192.8 1044.1 193.9 1043.2 195 1042.5C196.1 1041.8 197.2 1041.2 198.3 1040C199.4 1038.8 200.7 1036.4 201.7 1035C202.7 1033.6 203.4 1031.7 204.2 1031.7C205 1031.7 205.9 1033.3 206.7 1035C207.5 1036.7 208.4 1039.5 209.2 1041.7C210 1043.9 210.9 1046.5 211.7 1048.3C212.5 1050.1 213.4 1051.9 214.2 1052.5C215 1053.1 215.7 1052.8 216.7 1051.7C217.7 1050.6 218.9 1047.4 220 1046C221.1 1044.6 222.2 1044.2 223.3 1043.3C224.4 1042.4 225.6 1041.5 226.7 1040.8C227.8 1040.1 228.9 1039.9 230 1039.2C231.1 1038.5 232.3 1038.2 233.3 1036.7C234.3 1035.2 235 1032.2 235.8 1030C236.6 1027.8 237.5 1024.1 238.3 1023.3C239.1 1022.5 240 1023.3 240.8 1025C241.6 1026.7 242.3 1030.8 243.3 1033.3C244.3 1035.8 245.6 1037.8 246.7 1040C247.8 1042.2 248.9 1045.3 250 1046.7C251.1 1048.1 252.3 1048.9 253.3 1048.3C254.3 1047.7 255 1044.7 255.8 1043.3C256.6 1041.9 257.5 1041.2 258.3 1040C259.1 1038.8 260 1036.1 260.8 1035.8C261.6 1035.5 262.5 1038.3 263.3 1038.3C264.1 1038.3 265 1036.5 265.8 1035.8C266.6 1035.1 267.5 1034.3 268.3 1034.2C269.1 1034.1 270 1034.3 270.8 1035C271.6 1035.7 272.5 1037.2 273.3 1038.3C274.1 1039.4 275 1040.3 275.8 1041.7C276.6 1043.1 277.5 1045 278.3 1046.7C279.1 1048.4 280 1050.5 280.8 1051.7C281.6 1053 282.5 1053.9 283.3 1054.2C284.1 1054.5 285 1054 285.8 1053.3C286.6 1052.6 287.5 1050.7 288.3 1050C289.1 1049.3 290.1 1049 290.8 1049C291.5 1049 291.8 1050 292.5 1050C293.2 1050 294.2 1049.8 295 1049.2C295.8 1048.7 296.7 1047.4 297.5 1046.7C298.3 1046 299.2 1044.9 300 1045C300.8 1045.1 301.5 1046.7 302.5 1047.5C303.5 1048.3 304.8 1049.9 305.8 1050C306.8 1050.1 307.5 1049.4 308.3 1048.3C309.1 1047.2 310 1044.7 310.8 1043.3C311.6 1041.9 312.5 1041 313.3 1040C314.1 1039 315 1038.3 315.8 1037.5C316.6 1036.7 317.5 1035.1 318.3 1035C319.1 1034.9 320 1035.9 320.8 1036.7C321.6 1037.5 322.5 1039.7 323.3 1040C324.1 1040.3 325 1038.8 325.8 1038.3C326.6 1037.8 327.5 1036.7 328.3 1036.7C329.1 1036.7 330 1037.6 330.8 1038.3C331.6 1039 332.5 1040.1 333.3 1040.8C334.1 1041.5 335 1042.3 335.8 1042.5C336.6 1042.7 337.5 1042.1 338.3 1041.7C339.1 1041.3 340 1040.6 340.8 1040C341.6 1039.4 342.5 1039.1 343.3 1038.3C344.1 1037.5 345.1 1036.1 345.8 1035C346.5 1033.9 346.8 1032.5 347.5 1031.7C348.2 1030.9 349.2 1030.2 350 1030C350.8 1029.8 351.7 1030.4 352.5 1030.8C353.3 1031.2 354.2 1032.1 355 1032.5C355.8 1032.9 356.7 1033.5 357.5 1033.3C358.3 1033 359 1031.4 360 1031C361 1030.6 362.2 1030.1 363.3 1030.8C364.4 1031.5 365.6 1033.8 366.7 1035C367.8 1036.2 368.9 1038 370 1038.3C371.1 1038.6 372.2 1037.1 373.3 1036.7C374.4 1036.3 375.6 1036.1 376.7 1035.8C377.8 1035.5 378.9 1033.8 380 1035C381.1 1036.2 382.2 1041.1 383.3 1043.3C384.4 1045.5 385.6 1048 386.7 1048.3C387.8 1048.6 388.9 1046.9 390 1045C391.1 1043.1 392.3 1038.5 393.3 1036.7C394.3 1034.9 395 1034.2 395.8 1034.2C396.6 1034.2 397.3 1035.7 398.3 1036.7C399.3 1037.7 400.6 1039.2 401.7 1040C402.8 1040.8 403.9 1041.7 405 1041.7C406.1 1041.7 407.2 1040.4 408.3 1040C409.4 1039.6 410.6 1039.5 411.7 1039.2C412.8 1038.9 413.9 1038.5 415 1038.3C416.1 1038.1 417.2 1038.1 418.3 1038.3C419.4 1038.5 420.7 1038.9 421.7 1039.2C422.7 1039.5 423.8 1039.9 424.2 1040" stroke="#c3e9c3"/>
<path d="M62.7 1052.4C63.3 1051.3 64.8 1046.9 66.1 1045.7C67.3 1044.5 68.8 1045.4 70.2 1045C71.6 1044.6 72.9 1044.5 74.2 1043.5C75.5 1042.5 77.1 1039.7 78.3 1039.3C79.5 1038.9 80.5 1040.6 81.6 1041C82.7 1041.4 83.8 1042 85 1041.8C86.2 1041.6 87.8 1040.1 89.1 1040C90.4 1039.9 91.8 1041.2 93.1 1041.3C94.4 1041.4 95.8 1040.8 97.2 1040.5C98.6 1040.2 100.1 1039.6 101.2 1039.5C102.3 1039.4 102.9 1039.4 103.9 1040C104.9 1040.6 106.3 1041.4 107.3 1043C108.3 1044.6 109.2 1047.5 110 1049.7C110.8 1052 111.4 1054.4 112.1 1056.5C112.8 1058.6 113.3 1062.7 114 1062.1C114.7 1061.5 115.5 1056.7 116.3 1053.1C117.1 1049.5 118.2 1044.5 119.1 1040.7C120 1036.9 121 1033.3 121.9 1030.5C122.8 1027.7 123.8 1024.3 124.7 1023.8C125.6 1023.2 126.7 1025.7 127.5 1027.2C128.3 1028.7 129 1032.2 129.8 1032.8C130.7 1033.3 131.7 1031.2 132.6 1030.5C133.5 1029.8 134.5 1027.9 135.4 1028.3C136.3 1028.7 137.3 1031.1 138.2 1032.8C139.1 1034.5 140 1036.7 141 1038.4C142 1040.1 143.3 1041.8 144.4 1042.9C145.5 1044 146.7 1045.2 147.8 1045.2C148.9 1045.2 150.3 1044.2 151.2 1043C152.1 1041.8 152.4 1039.8 153.3 1038.3C154.2 1036.8 155.7 1034.5 156.7 1034.2C157.7 1033.9 158.4 1035.2 159.2 1036.7C160 1038.2 160.7 1041.1 161.7 1043.3C162.7 1045.5 163.9 1048.3 165 1050C166.1 1051.7 167.2 1053 168.3 1053.3C169.4 1053.6 170.6 1053 171.7 1051.7C172.8 1050.5 173.9 1047.2 175 1045.8C176.1 1044.4 177.2 1043.8 178.3 1043.3C179.4 1042.8 180.6 1042.8 181.7 1042.5C182.8 1042.2 183.9 1041.6 185 1041.7C186.1 1041.8 187.2 1042.9 188.3 1043.3C189.4 1043.7 190.6 1044.3 191.7 1044.2C192.8 1044.1 193.9 1043.2 195 1042.5C196.1 1041.8 197.2 1041.2 198.3 1040C199.4 1038.8 200.7 1036.4 201.7 1035C202.7 1033.6 203.4 1031.7 204.2 1031.7C205 1031.7 205.9 1033.3 206.7 1035C207.5 1036.7 208.4 1039.5 209.2 1041.7C210 1043.9 210.9 1046.5 211.7 1048.3C212.5 1050.1 213.4 1051.9 214.2 1052.5C215 1053.1 215.7 1052.8 216.7 1051.7C217.7 1050.6 218.9 1047.4 220 1046C221.1 1044.6 222.2 1044.2 223.3 1043.3C224.4 1042.4 225.6 1041.5 226.7 1040.8C227.8 1040.1 228.9 1039.9 230 1039.2C231.1 1038.5 232.3 1038.2 233.3 1036.7C234.3 1035.2 235 1032.2 235.8 1030C236.6 1027.8 237.5 1024.1 238.3 1023.3C239.1 1022.5 240 1023.3 240.8 1025C241.6 1026.7 242.3 1030.8 243.3 1033.3C244.3 1035.8 245.6 1037.8 246.7 1040C247.8 1042.2 248.9 1045.3 250 1046.7C251.1 1048.1 252.3 1048.9 253.3 1048.3C254.3 1047.7 255 1044.7 255.8 1043.3C256.6 1041.9 257.5 1041.2 258.3 1040C259.1 1038.8 260 1036.1 260.8 1035.8C261.6 1035.5 262.5 1038.3 263.3 1038.3C264.1 1038.3 265 1036.5 265.8 1035.8C266.6 1035.1 267.5 1034.3 268.3 1034.2C269.1 1034.1 270 1034.3 270.8 1035C271.6 1035.7 272.5 1037.2 273.3 1038.3C274.1 1039.4 275 1040.3 275.8 1041.7C276.6 1043.1 277.5 1045 278.3 1046.7C279.1 1048.4 280 1050.5 280.8 1051.7C281.6 1053 282.5 1053.9 283.3 1054.2C284.1 1054.5 285 1054 285.8 1053.3C286.6 1052.6 287.5 1050.7 288.3 1050C289.1 1049.3 290.1 1049 290.8 1049C291.5 1049 291.8 1050 292.5 1050C293.2 1050 294.2 1049.8 295 1049.2C295.8 1048.7 296.7 1047.4 297.5 1046.7C298.3 1046 299.2 1044.9 300 1045C300.8 1045.1 301.5 1046.7 302.5 1047.5C303.5 1048.3 304.8 1049.9 305.8 1050C306.8 1050.1 307.5 1049.4 308.3 1048.3C309.1 1047.2 310 1044.7 310.8 1043.3C311.6 1041.9 312.5 1041 313.3 1040C314.1 1039 315 1038.3 315.8 1037.5C316.6 1036.7 317.5 1035.1 318.3 1035C319.1 1034.9 320 1035.9 320.8 1036.7C321.6 1037.5 322.5 1039.7 323.3 1040C324.1 1040.3 325 1038.8 325.8 1038.3C326.6 1037.8 327.5 1036.7 328.3 1036.7C329.1 1036.7 330 1037.6 330.8 1038.3C331.6 1039 332.5 1040.1 333.3 1040.8C334.1 1041.5 335 1042.3 335.8 1042.5C336.6 1042.7 337.5 1042.1 338.3 1041.7C339.1 1041.3 340 1040.6 340.8 1040C341.6 1039.4 342.5 1039.1 343.3 1038.3C344.1 1037.5 345.1 1036.1 345.8 1035C346.5 1033.9 346.8 1032.5 347.5 1031.7C348.2 1030.9 349.2 1030.2 350 1030C350.8 1029.8 351.7 1030.4 352.5 1030.8C353.3 1031.2 354.2 1032.1 355 1032.5C355.8 1032.9 356.7 1033.5 357.5 1033.3C358.3 1033 359 1031.4 360 1031C361 1030.6 362.2 1030.1 363.3 1030.8C364.4 1031.5 365.6 1033.8 366.7 1035C367.8 1036.2 368.9 1038 370 1038.3C371.1 1038.6 372.2 1037.1 373.3 1036.7C374.4 1036.3 375.6 1036.1 376.7 1035.8C377.8 1035.5 378.9 1033.8 380 1035C381.1 1036.2 382.2 1041.1 383.3 1043.3C384.4 1045.5 385.6 1048 386.7 1048.3C387.8 1048.6 388.9 1046.9 390 1045C391.1 1043.1 392.3 1038.5 393.3 1036.7C394.3 1034.9 395 1034.2 395.8 1034.2C396.6 1034.2 397.3 1035.7 398.3 1036.7C399.3 1037.7 400.6 1039.2 401.7 1040C402.8 1040.8 403.9 1041.7 405 1041.7C406.1 1041.7 407.2 1040.4 408.3 1040C409.4 1039.6 410.6 1039.5 411.7 1039.2C412.8 1038.9 413.9 1038.5 415 1038.3C416.1 1038.1 417.2 1038.1 418.3 1038.3C419.4 1038.5 420.7 1038.9 421.7 1039.2C422.7 1039.5 423.8 1039.9 424.2 1040" stroke="#8ae678" clip-path="url(#c3)"/>
<path d="M62.7 1051.1C63.3 1048.4 65.1 1039.4 66.1 1034.9C67.1 1030.4 67.7 1027.2 68.8 1024.1C69.9 1020.9 71.6 1017.8 72.9 1016C74.2 1014.2 75.6 1013.9 76.9 1013.2C78.2 1012.5 79.7 1012.2 81 1011.9C82.3 1011.6 83.7 1011.1 85 1011.2C86.3 1011.3 87.8 1012 89.1 1012.6C90.4 1013.2 91.8 1013.8 93.1 1014.6C94.4 1015.4 95.8 1016.4 97.2 1017.3C98.6 1018.2 100 1019 101.2 1020C102.4 1021 103.6 1022.3 104.6 1023.4C105.6 1024.5 106.5 1026.8 107.3 1026.5C108.1 1026.2 108.8 1023.1 109.5 1021.5C110.2 1019.9 110.9 1018.6 111.8 1017C112.7 1015.4 114 1013.2 115.1 1012C116.2 1010.8 117.2 1010.1 118.5 1009.7C119.8 1009.3 121.5 1009.4 123 1009.7C124.5 1010 126.2 1010.6 127.5 1011.4C128.8 1012.1 129.9 1012.9 130.9 1014.2C131.9 1015.5 132.8 1017.7 133.7 1019.3C134.6 1020.9 135.5 1022.3 136.5 1023.8C137.5 1025.3 138.8 1027 139.9 1028.3C141 1029.6 142.2 1030.8 143.3 1031.7C144.4 1032.6 145.6 1033.4 146.7 1033.9C147.8 1034.4 148.6 1035 150 1034.5C151.4 1034 153.3 1032.1 155 1030.8C156.7 1029.5 158.3 1028.1 160 1026.7C161.7 1025.3 163.3 1023.9 165 1022.5C166.7 1021.1 168.3 1019.8 170 1018.3C171.7 1016.8 173.6 1015.5 175 1013.3C176.4 1011.1 177.3 1008 178.3 1005C179.3 1002 180 997.2 180.8 995C181.6 992.8 182.4 992.6 183.3 991.7C184.2 990.8 185.3 989.7 186.3 989.7C187.3 989.7 188.2 991 189.2 991.7C190.2 992.5 191.4 993.2 192.5 994.2C193.6 995.2 194.8 996.8 195.8 997.5C196.8 998.2 197.3 998.4 198.3 998.3C199.3 998.2 200.3 997 201.7 996.7C203.1 996.4 205 996.6 206.7 996.7C208.4 996.8 210 997.2 211.7 997.5C213.4 997.8 215.3 998 216.7 998.3C218.1 998.6 218.6 999.2 220 999.2C221.4 999.2 223.3 998.6 225 998.3C226.7 998 228.6 997.4 230 997.5C231.4 997.6 232.2 998.5 233.3 999.2C234.4 999.9 235.6 1001 236.7 1001.7C237.8 1002.4 238.9 1002.9 240 1003.3C241.1 1003.7 242.2 1004.5 243.3 1004.2C244.4 1003.9 245.6 1002.5 246.7 1001.7C247.8 1000.9 248.9 999.9 250 999.2C251.1 998.5 251.9 998.1 253.3 997.5C254.7 996.9 256.6 996.1 258.3 995.8C260 995.5 261.6 995.9 263.3 995.8C265 995.7 266.6 995.1 268.3 995C270 994.9 271.6 994.9 273.3 995C275 995.1 276.6 995.4 278.3 995.8C280 996.2 281.9 996.9 283.3 997.5C284.7 998.1 285.6 998.9 286.7 999.2C287.8 999.5 288.1 999.5 290 999.5C291.9 999.5 295.5 999.5 298.3 999.5C301.1 999.5 304.2 999.3 306.7 999.2C309.2 999.1 311.6 998.9 313.3 998.7C315 998.5 315.6 998.3 316.7 998C317.8 997.7 318.9 997.2 320 996.7C321.1 996.2 322.2 995.6 323.3 995C324.4 994.4 325.6 993.8 326.7 993.3C327.8 992.8 328.9 992.1 330 991.7C331.1 991.3 332.3 990.7 333.3 990.8C334.3 990.9 335 991.9 335.8 992.5C336.6 993.1 337.3 993.8 338.3 994.2C339.3 994.6 340.6 994.9 341.7 995C342.8 995.1 343.9 994.9 345 995C346.1 995.1 347.2 995.7 348.3 995.8C349.4 995.9 350.6 995.9 351.7 995.8C352.8 995.7 353.9 995.5 355 995C356.1 994.5 357.3 993.5 358.3 992.5C359.3 991.5 359.7 990.1 360.8 989C361.9 987.9 363.5 986.5 365 985.8C366.5 985.1 368.3 985 370 984.7C371.7 984.4 373.3 984.2 375 984.2C376.7 984.2 378.3 984.3 380 984.7C381.7 985.1 383.3 986 385 986.7C386.7 987.5 388.3 988.4 390 989.2C391.7 990 393.3 991.2 395 991.7C396.7 992.2 398.3 992.6 400 992.5C401.7 992.4 403.3 991.3 405 990.8C406.7 990.2 408.6 989.8 410 989.2C411.4 988.7 412.2 988.2 413.3 987.5C414.4 986.8 415.6 985.8 416.7 985C417.8 984.2 418.9 983.5 420 983C421.1 982.5 422.8 982.2 423.3 982" stroke="#e6b96c"/>
<path d="M62.7 1051.1C63.3 1048.4 65.1 1039.4 66.1 1034.9C67.1 1030.4 67.7 1027.2 68.8 1024.1C69.9 1020.9 71.6 1017.8 72.9 1016C74.2 1014.2 75.6 1013.9 76.9 1013.2C78.2 1012.5 79.7 1012.2 81 1011.9C82.3 1011.6 83.7 1011.1 85 1011.2C86.3 1011.3 87.8 1012 89.1 1012.6C90.4 1013.2 91.8 1013.8 93.1 1014.6C94.4 1015.4 95.8 1016.4 97.2 1017.3C98.6 1018.2 100 1019 101.2 1020C102.4 1021 103.6 1022.3 104.6 1023.4C105.6 1024.5 106.5 1026.8 107.3 1026.5C108.1 1026.2 108.8 1023.1 109.5 1021.5C110.2 1019.9 110.9 1018.6 111.8 1017C112.7 1015.4 114 1013.2 115.1 1012C116.2 1010.8 117.2 1010.1 118.5 1009.7C119.8 1009.3 121.5 1009.4 123 1009.7C124.5 1010 126.2 1010.6 127.5 1011.4C128.8 1012.1 129.9 1012.9 130.9 1014.2C131.9 1015.5 132.8 1017.7 133.7 1019.3C134.6 1020.9 135.5 1022.3 136.5 1023.8C137.5 1025.3 138.8 1027 139.9 1028.3C141 1029.6 142.2 1030.8 143.3 1031.7C144.4 1032.6 145.6 1033.4 146.7 1033.9C147.8 1034.4 148.6 1035 150 1034.5C151.4 1034 153.3 1032.1 155 1030.8C156.7 1029.5 158.3 1028.1 160 1026.7C161.7 1025.3 163.3 1023.9 165 1022.5C166.7 1021.1 168.3 1019.8 170 1018.3C171.7 1016.8 173.6 1015.5 175 1013.3C176.4 1011.1 177.3 1008 178.3 1005C179.3 1002 180 997.2 180.8 995C181.6 992.8 182.4 992.6 183.3 991.7C184.2 990.8 185.3 989.7 186.3 989.7C187.3 989.7 188.2 991 189.2 991.7C190.2 992.5 191.4 993.2 192.5 994.2C193.6 995.2 194.8 996.8 195.8 997.5C196.8 998.2 197.3 998.4 198.3 998.3C199.3 998.2 200.3 997 201.7 996.7C203.1 996.4 205 996.6 206.7 996.7C208.4 996.8 210 997.2 211.7 997.5C213.4 997.8 215.3 998 216.7 998.3C218.1 998.6 218.6 999.2 220 999.2C221.4 999.2 223.3 998.6 225 998.3C226.7 998 228.6 997.4 230 997.5C231.4 997.6 232.2 998.5 233.3 999.2C234.4 999.9 235.6 1001 236.7 1001.7C237.8 1002.4 238.9 1002.9 240 1003.3C241.1 1003.7 242.2 1004.5 243.3 1004.2C244.4 1003.9 245.6 1002.5 246.7 1001.7C247.8 1000.9 248.9 999.9 250 999.2C251.1 998.5 251.9 998.1 253.3 997.5C254.7 996.9 256.6 996.1 258.3 995.8C260 995.5 261.6 995.9 263.3 995.8C265 995.7 266.6 995.1 268.3 995C270 994.9 271.6 994.9 273.3 995C275 995.1 276.6 995.4 278.3 995.8C280 996.2 281.9 996.9 283.3 997.5C284.7 998.1 285.6 998.9 286.7 999.2C287.8 999.5 288.1 999.5 290 999.5C291.9 999.5 295.5 999.5 298.3 999.5C301.1 999.5 304.2 999.3 306.7 999.2C309.2 999.1 311.6 998.9 313.3 998.7C315 998.5 315.6 998.3 316.7 998C317.8 997.7 318.9 997.2 320 996.7C321.1 996.2 322.2 995.6 323.3 995C324.4 994.4 325.6 993.8 326.7 993.3C327.8 992.8 328.9 992.1 330 991.7C331.1 991.3 332.3 990.7 333.3 990.8C334.3 990.9 335 991.9 335.8 992.5C336.6 993.1 337.3 993.8 338.3 994.2C339.3 994.6 340.6 994.9 341.7 995C342.8 995.1 343.9 994.9 345 995C346.1 995.1 347.2 995.7 348.3 995.8C349.4 995.9 350.6 995.9 351.7 995.8C352.8 995.7 353.9 995.5 355 995C356.1 994.5 357.3 993.5 358.3 992.5C359.3 991.5 359.7 990.1 360.8 989C361.9 987.9 363.5 986.5 365 985.8C366.5 985.1 368.3 985 370 984.7C371.7 984.4 373.3 984.2 375 984.2C376.7 984.2 378.3 984.3 380 984.7C381.7 985.1 383.3 986 385 986.7C386.7 987.5 388.3 988.4 390 989.2C391.7 990 393.3 991.2 395 991.7C396.7 992.2 398.3 992.6 400 992.5C401.7 992.4 403.3 991.3 405 990.8C406.7 990.2 408.6 989.8 410 989.2C411.4 988.7 412.2 988.2 413.3 987.5C414.4 986.8 415.6 985.8 416.7 985C417.8 984.2 418.9 983.5 420 983C421.1 982.5 422.8 982.2 423.3 982" stroke="#e9967a" clip-path="url(#c3)"/>
</g>
<path d="M44.9 893.2V1112.2H442" stroke="#4d4d4d" stroke-width="1.3" fill="none"/>
<path d="M41.4 1102.4H44.9M41.4 1054.1H44.9M41.4 1005.7H44.9M41.4 957.4H44.9M41.4 909H44.9M119.2 1112.2V1115.2M232.5 1112.2V1115.2M345.8 1112.2V1115.2" stroke="#4d4d4d" stroke-width="1.1" fill="none"/>
<text x="38.6" y="1108.5" font-size="17" fill="#333333" text-anchor="end">0</text>
<text x="38.6" y="1060.2" font-size="17" fill="#333333" text-anchor="end">2</text>
<text x="38.6" y="1011.8" font-size="17" fill="#333333" text-anchor="end">4</text>
<text x="38.6" y="963.5" font-size="17" fill="#333333" text-anchor="end">6</text>
<text x="38.6" y="915.1" font-size="17" fill="#333333" text-anchor="end">8</text>
<text x="119.2" y="1128.8" font-size="17" fill="#333333" text-anchor="middle">1990</text>
<text x="232.5" y="1128.8" font-size="17" fill="#333333" text-anchor="middle">2000</text>
<text x="345.8" y="1128.8" font-size="17" fill="#333333" text-anchor="middle">2010</text>
<text x="243.4" y="884.4" font-size="19" fill="#000" text-anchor="middle">Mesozooplankton - Large</text>
<text transform="translate(23.5 1002.7) rotate(-90)" font-size="18.2" fill="#000" text-anchor="middle">Biomass (t.km-2)</text>
<text x="243" y="1148" font-size="18.3" fill="#000" text-anchor="middle">Years</text>
<g font-size="19.6" fill="#000">
<path d="M34.2 1186.4H47.1" stroke="#000" stroke-width="3"/>
<text x="54.5" y="1194.3">F. + Plk. + Temp.</text>
<path d="M206.2 1186.4H219.1" stroke="#80dc6e" stroke-width="3"/>
<text x="226.8" y="1194.3">F. + Plk.</text>
<path d="M303.7 1186.4H316.6" stroke="#eb966e" stroke-width="3"/>
<text x="324.5" y="1194.3">F. + Temp.</text>
</g>
</svg></body></html>
